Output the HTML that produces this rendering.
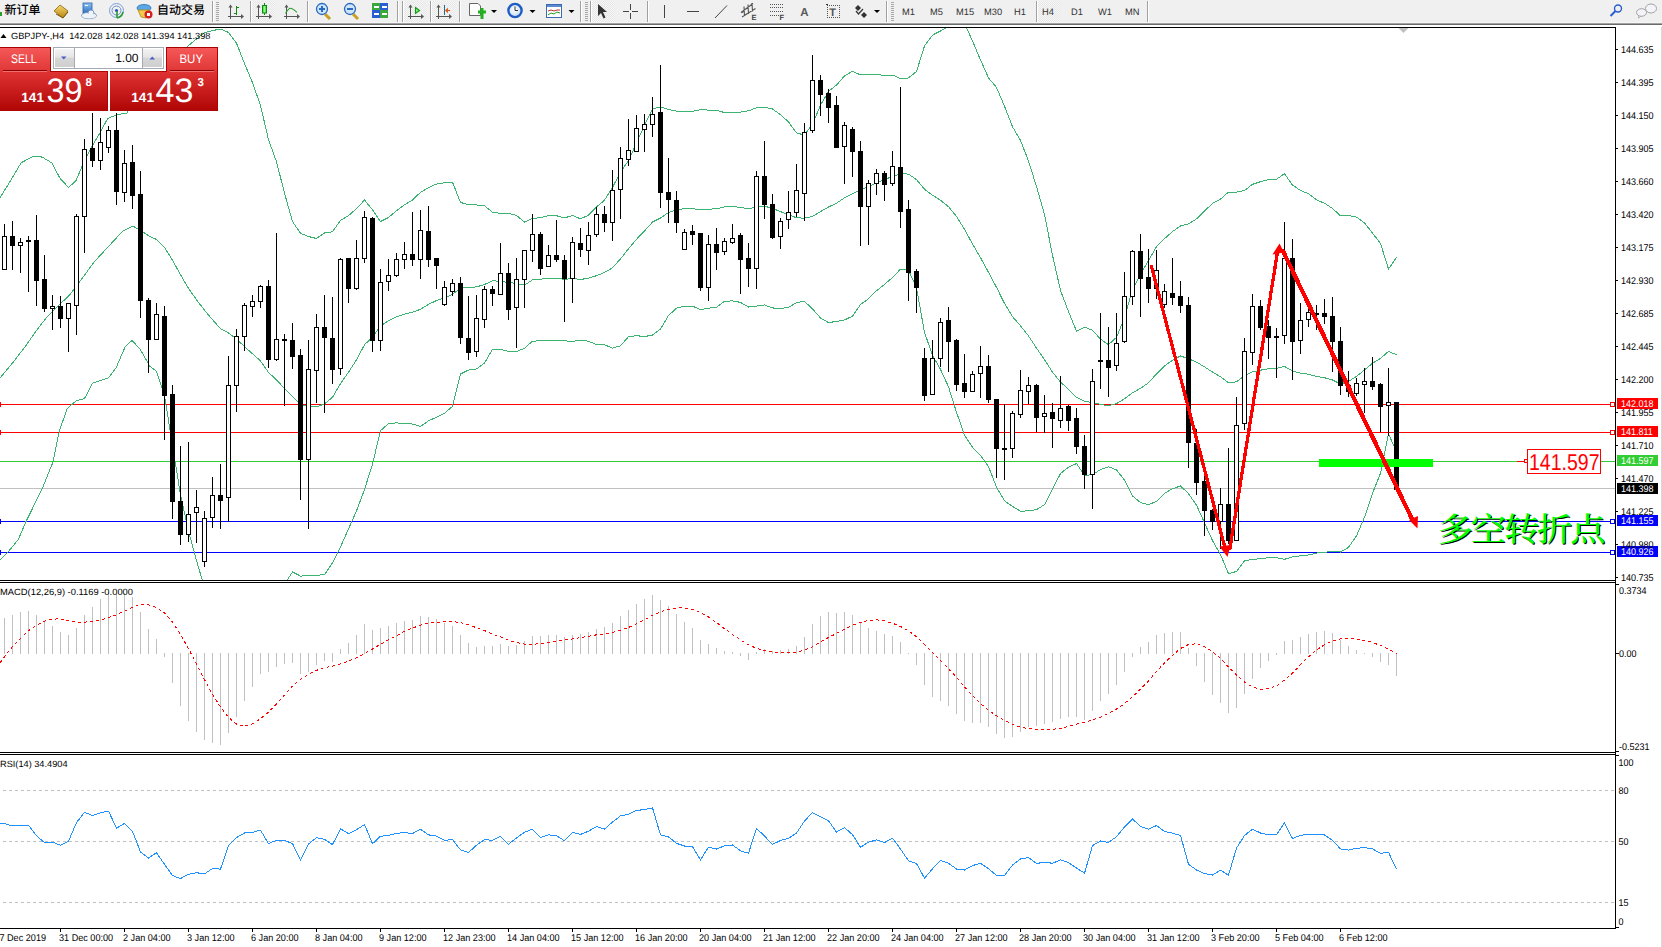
<!DOCTYPE html>
<html><head><meta charset="utf-8"><title>GBPJPY-,H4</title>
<style>html,body{margin:0;padding:0;background:#fff;}body{width:1662px;height:947px;overflow:hidden;position:relative;}svg text{white-space:pre;text-rendering:geometricPrecision;}</style>
</head><body>
<svg width="1662" height="947" viewBox="0 0 1662 947" style="position:absolute;left:0;top:0">
<defs><clipPath id="cm"><rect x="0" y="28" width="1615" height="552"/></clipPath><clipPath id="cd"><rect x="0" y="583" width="1615" height="169"/></clipPath><clipPath id="cr"><rect x="0" y="755" width="1615" height="173"/></clipPath></defs>
<rect x="0" y="0" width="1662" height="947" fill="#fff"/>
<g clip-path="url(#cm)"><rect x="0" y="404" width="1615" height="1" fill="#ff0000"/><rect x="0" y="432" width="1615" height="1" fill="#ff0000"/><rect x="0" y="461" width="1615" height="1" fill="#32cd32"/><rect x="0" y="488" width="1615" height="1" fill="#c0c0c0"/><rect x="0" y="521" width="1615" height="1" fill="#0000ff"/><rect x="0" y="552" width="1615" height="1" fill="#0000ff"/><polyline fill="none" stroke="#3cb371" stroke-width="1" shape-rendering="crispEdges" points="0,197.6 10.6,180.7 21.1,162.8 33.8,156 42.2,157.1 51.7,162.8 60.2,178.6 68.6,187.5 76,180.7 81.3,168.1 90.8,148 99.2,134.3 107.7,118.4 118.2,114.2 126.7,113.6 131,104.5 140,96.5 150,100.5 156.5,107.61 164.5,99.06 172.5,75.08 180.5,54.77 188.5,45.67 196.5,39 204.5,32.57 212.5,30.55 220.5,29.11 228.5,32.46 236.5,43.24 244.5,63.47 252.5,82.65 260.5,105.48 268.5,139.76 276.5,161.69 284.5,193.17 292.5,221.49 300.5,233.24 308.5,236.53 316.5,238.49 324.5,232.94 332.5,231.81 340.5,220.26 348.5,215.63 356.5,208.68 364.5,200.03 372.5,209.87 380.5,221.53 388.5,217.54 396.5,210.65 404.5,204.74 412.5,200.16 420.5,192.26 428.5,187.72 436.5,184.03 444.5,182.72 452.5,182.14 460.5,202.49 468.5,204.59 476.5,204.93 484.5,205.85 492.5,212.15 500.5,213.45 508.5,213.45 516.5,215.36 524.5,222.07 532.5,218.47 540.5,217.59 548.5,215.74 556.5,215.74 564.5,217.89 572.5,215.51 580.5,218.86 588.5,215.23 596.5,206.95 604.5,200.19 612.5,187.46 620.5,171.95 628.5,160.79 636.5,142.84 644.5,125.4 652.5,109.07 660.5,106.9 668.5,109.46 676.5,111.13 684.5,111.41 692.5,111.41 700.5,109.71 708.5,110.06 716.5,110.38 724.5,112.53 732.5,112.61 740.5,112.11 748.5,110.76 756.5,107.9 764.5,107.25 772.5,108.97 780.5,114.69 788.5,121.92 796.5,132.95 804.5,135.05 812.5,124.07 820.5,105.26 828.5,91.4 836.5,85.07 844.5,75.88 852.5,71.34 860.5,74.84 868.5,74.57 876.5,74.68 884.5,75.24 892.5,75.06 900.5,78.56 908.5,77.96 916.5,71.51 924.5,45.91 932.5,35.08 940.5,31.02 948.5,26.61 956.5,20.63 964.5,23.48 972.5,40.83 980.5,59.95 988.5,77.96 996.5,87.45 1004.5,106.22 1012.5,126.78 1020.5,140.44 1028.5,160.93 1036.5,186.62 1044.5,214.45 1052.5,255.27 1060.5,290.48 1068.5,311.59 1076.5,331.19 1084.5,327.11 1092.5,330.26 1100.5,339.18 1108.5,344.65 1116.5,337.36 1124.5,317.84 1132.5,289.57 1140.5,274.15 1148.5,260.79 1156.5,246.51 1164.5,238.74 1172.5,231.56 1180.5,225.99 1188.5,223.96 1196.5,218.84 1204.5,211.04 1212.5,203.42 1220.5,199.13 1228.5,192.02 1236.5,192.15 1244.5,190.5 1252.5,184.35 1260.5,181.69 1268.5,179.66 1276.5,179.18 1284.5,173.7 1292.5,185.07 1300.5,190.47 1308.5,193.61 1316.5,199.89 1324.5,203.22 1332.5,208.44 1340.5,215.88 1348.5,215.42 1356.5,217.05 1364.5,222.85 1372.5,233.12 1380.5,243.37 1388.5,269.08 1396.5,257.39"/><polyline fill="none" stroke="#3cb371" stroke-width="1" shape-rendering="crispEdges" points="0,378 13.2,362.2 26.4,345 34.3,333.5 46.8,317 69.7,294.8 95,261 122.5,231.4 133,226.1 143.6,232.5 150,236.5 156.5,239.4 164.5,247.35 172.5,260.15 180.5,274.75 188.5,288.4 196.5,299.75 204.5,310.25 212.5,319.7 220.5,328.8 228.5,332.9 236.5,338.9 244.5,346.7 252.5,353.75 260.5,360.95 268.5,372.4 276.5,379.8 284.5,388.65 292.5,396.7 300.5,404.65 308.5,406.15 316.5,406.8 324.5,403.9 332.5,397.3 340.5,383.55 348.5,372.25 356.5,359.8 364.5,344.75 372.5,337 380.5,326.1 388.5,320.6 396.5,316.75 404.5,314.2 412.5,312.1 420.5,309.3 428.5,304.3 436.5,300.6 444.5,297.95 452.5,294.3 460.5,288.2 468.5,287.35 476.5,286.9 484.5,284.5 492.5,280.7 500.5,281.4 508.5,282.45 516.5,283.5 524.5,285.15 532.5,279.85 540.5,279.15 548.5,278.15 556.5,278.15 564.5,279.35 572.5,278.5 580.5,279.45 588.5,278.25 596.5,275.7 604.5,272.45 612.5,267.8 620.5,258.85 628.5,248.75 636.5,239.25 644.5,231 652.5,222.05 660.5,218 668.5,212.5 676.5,209.65 684.5,208.75 692.5,208.75 700.5,209.7 708.5,209.15 716.5,208.8 724.5,206.95 732.5,206.75 740.5,207.25 748.5,208.9 756.5,207 764.5,206.1 772.5,208.45 780.5,211.6 788.5,214.7 796.5,217.8 804.5,218.2 812.5,216.5 820.5,211.6 828.5,207 836.5,203.25 844.5,197.9 852.5,193.75 860.5,189.7 868.5,186.65 876.5,182.7 884.5,179.85 892.5,176.25 900.5,173.85 908.5,174.05 916.5,179.6 924.5,189.15 932.5,195.2 940.5,200.25 948.5,206.7 956.5,216.4 964.5,229.35 972.5,244.05 980.5,257.65 988.5,272.25 996.5,287.3 1004.5,303.5 1012.5,316.6 1020.5,325.8 1028.5,335.9 1036.5,348.1 1044.5,359.55 1052.5,372.15 1060.5,382 1068.5,389.4 1076.5,397.35 1084.5,401.3 1092.5,402.45 1100.5,404.4 1108.5,405.7 1116.5,403.65 1124.5,398.9 1132.5,392.75 1140.5,388.35 1148.5,382.8 1156.5,373.9 1164.5,366 1172.5,360.2 1180.5,355.95 1188.5,358.8 1196.5,362.05 1204.5,366.9 1212.5,372.05 1220.5,376.85 1228.5,382.85 1236.5,381.8 1244.5,375.65 1252.5,371.9 1260.5,370.2 1268.5,368.7 1276.5,368.4 1284.5,366.5 1292.5,371 1300.5,373.1 1308.5,374.3 1316.5,376.5 1324.5,377.75 1332.5,379.95 1340.5,383.95 1348.5,381.4 1356.5,376.45 1364.5,370 1372.5,363.25 1380.5,358.35 1388.5,351.45 1396.5,354.65"/><polyline fill="none" stroke="#3cb371" stroke-width="1" shape-rendering="crispEdges" points="0,560.2 7.9,552.3 18.5,539.1 26.4,520.6 34.3,504.8 42.2,488.9 52.8,462.5 59.4,430.8 67.3,408.4 76.6,400.5 84.5,398.6 92.4,383.3 108.3,378 116.2,367.5 125.4,346.3 132,340.5 140,349 150,366.5 156.5,371.19 164.5,395.64 172.5,445.22 180.5,494.73 188.5,531.13 196.5,560.5 204.5,587.93 212.5,608.85 220.5,628.49 228.5,633.34 236.5,634.56 244.5,629.93 252.5,624.85 260.5,616.42 268.5,605.04 276.5,597.91 284.5,584.13 292.5,571.91 300.5,576.06 308.5,575.77 316.5,575.11 324.5,574.86 332.5,562.79 340.5,546.84 348.5,528.87 356.5,510.92 364.5,489.47 372.5,464.13 380.5,430.67 388.5,423.66 396.5,422.85 404.5,423.66 412.5,424.04 420.5,426.34 428.5,420.88 436.5,417.17 444.5,413.18 452.5,406.46 460.5,373.91 468.5,370.11 476.5,368.87 484.5,363.15 492.5,349.25 500.5,349.35 508.5,351.45 516.5,351.64 524.5,348.23 532.5,341.23 540.5,340.71 548.5,340.56 556.5,340.56 564.5,340.81 572.5,341.49 580.5,340.04 588.5,341.27 596.5,344.45 604.5,344.71 612.5,348.14 620.5,345.75 628.5,336.71 636.5,335.66 644.5,336.6 652.5,335.03 660.5,329.1 668.5,315.54 676.5,308.17 684.5,306.09 692.5,306.09 700.5,309.69 708.5,308.24 716.5,307.22 724.5,301.37 732.5,300.89 740.5,302.39 748.5,307.04 756.5,306.1 764.5,304.95 772.5,307.93 780.5,308.51 788.5,307.48 796.5,302.65 804.5,301.35 812.5,308.93 820.5,317.94 828.5,322.6 836.5,321.43 844.5,319.92 852.5,316.16 860.5,304.56 868.5,298.73 876.5,290.72 884.5,284.46 892.5,277.44 900.5,269.14 908.5,270.14 916.5,287.69 924.5,332.39 932.5,355.32 940.5,369.48 948.5,386.79 956.5,412.17 964.5,435.22 972.5,447.27 980.5,455.35 988.5,466.54 996.5,487.15 1004.5,500.78 1012.5,506.42 1020.5,511.16 1028.5,510.87 1036.5,509.58 1044.5,504.65 1052.5,489.03 1060.5,473.52 1068.5,467.21 1076.5,463.51 1084.5,475.49 1092.5,474.64 1100.5,469.62 1108.5,466.75 1116.5,469.94 1124.5,479.96 1132.5,495.93 1140.5,502.55 1148.5,504.81 1156.5,501.29 1164.5,493.26 1172.5,488.84 1180.5,485.91 1188.5,493.64 1196.5,505.26 1204.5,522.76 1212.5,540.68 1220.5,554.57 1228.5,573.68 1236.5,571.45 1244.5,560.8 1252.5,559.45 1260.5,558.71 1268.5,557.74 1276.5,557.62 1284.5,559.3 1292.5,556.93 1300.5,555.73 1308.5,554.99 1316.5,553.11 1324.5,552.28 1332.5,551.46 1340.5,552.02 1348.5,547.38 1356.5,535.85 1364.5,517.15 1372.5,493.38 1380.5,473.33 1388.5,433.82 1396.5,451.91"/><rect x="4" y="224" width="1" height="46" fill="#000"/><rect x="2.5" y="236.5" width="4" height="33" fill="#fff" stroke="#000" stroke-width="1"/><rect x="12" y="221" width="1" height="49" fill="#000"/><rect x="10" y="236" width="5" height="10" fill="#000"/><rect x="20" y="238" width="1" height="35" fill="#000"/><rect x="18.5" y="242.5" width="4" height="3" fill="#fff" stroke="#000" stroke-width="1"/><rect x="28" y="236" width="1" height="56" fill="#000"/><rect x="26" y="240" width="5" height="2" fill="#000"/><rect x="36" y="215" width="1" height="91" fill="#000"/><rect x="34" y="240" width="5" height="41" fill="#000"/><rect x="44" y="255" width="1" height="57" fill="#000"/><rect x="42" y="279" width="5" height="30" fill="#000"/><rect x="52" y="295" width="1" height="35" fill="#000"/><rect x="50.5" y="306.5" width="4" height="2" fill="#fff" stroke="#000" stroke-width="1"/><rect x="60" y="296" width="1" height="32" fill="#000"/><rect x="58" y="306" width="5" height="13" fill="#000"/><rect x="68" y="303" width="1" height="49" fill="#000"/><rect x="66.5" y="303.5" width="4" height="15" fill="#fff" stroke="#000" stroke-width="1"/><rect x="76" y="214" width="1" height="121" fill="#000"/><rect x="74.5" y="216.5" width="4" height="89" fill="#fff" stroke="#000" stroke-width="1"/><rect x="84" y="139" width="1" height="114" fill="#000"/><rect x="82.5" y="149.5" width="4" height="67" fill="#fff" stroke="#000" stroke-width="1"/><rect x="92" y="113" width="1" height="54" fill="#000"/><rect x="90" y="148" width="5" height="13" fill="#000"/><rect x="100" y="118" width="1" height="52" fill="#000"/><rect x="98.5" y="142.5" width="4" height="18" fill="#fff" stroke="#000" stroke-width="1"/><rect x="108" y="126" width="1" height="27" fill="#000"/><rect x="106.5" y="130.5" width="4" height="17" fill="#fff" stroke="#000" stroke-width="1"/><rect x="116" y="113" width="1" height="92" fill="#000"/><rect x="114" y="130" width="5" height="62" fill="#000"/><rect x="124" y="150" width="1" height="52" fill="#000"/><rect x="122.5" y="163.5" width="4" height="29" fill="#fff" stroke="#000" stroke-width="1"/><rect x="132" y="145" width="1" height="64" fill="#000"/><rect x="130" y="162" width="5" height="34" fill="#000"/><rect x="140" y="171" width="1" height="147" fill="#000"/><rect x="138" y="194" width="5" height="107" fill="#000"/><rect x="148" y="298" width="1" height="75" fill="#000"/><rect x="146" y="300" width="5" height="40" fill="#000"/><rect x="156" y="303" width="1" height="37" fill="#000"/><rect x="154.5" y="314.5" width="4" height="25" fill="#fff" stroke="#000" stroke-width="1"/><rect x="164" y="306" width="1" height="134" fill="#000"/><rect x="162" y="316" width="5" height="80" fill="#000"/><rect x="172" y="385" width="1" height="134" fill="#000"/><rect x="170" y="394" width="5" height="108" fill="#000"/><rect x="180" y="446" width="1" height="99" fill="#000"/><rect x="178" y="501" width="5" height="34" fill="#000"/><rect x="188" y="442" width="1" height="100" fill="#000"/><rect x="186.5" y="514.5" width="4" height="20" fill="#fff" stroke="#000" stroke-width="1"/><rect x="196" y="490" width="1" height="53" fill="#000"/><rect x="194.5" y="507.5" width="4" height="5" fill="#fff" stroke="#000" stroke-width="1"/><rect x="204" y="511" width="1" height="56" fill="#000"/><rect x="202.5" y="518.5" width="4" height="43" fill="#fff" stroke="#000" stroke-width="1"/><rect x="212" y="477" width="1" height="51" fill="#000"/><rect x="210.5" y="495.5" width="4" height="22" fill="#fff" stroke="#000" stroke-width="1"/><rect x="220" y="464" width="1" height="65" fill="#000"/><rect x="218" y="495" width="5" height="6" fill="#000"/><rect x="228" y="356" width="1" height="166" fill="#000"/><rect x="226.5" y="385.5" width="4" height="112" fill="#fff" stroke="#000" stroke-width="1"/><rect x="236" y="329" width="1" height="83" fill="#000"/><rect x="234.5" y="336.5" width="4" height="49" fill="#fff" stroke="#000" stroke-width="1"/><rect x="244" y="303" width="1" height="48" fill="#000"/><rect x="242.5" y="305.5" width="4" height="31" fill="#fff" stroke="#000" stroke-width="1"/><rect x="252" y="295" width="1" height="22" fill="#000"/><rect x="250.5" y="301.5" width="4" height="5" fill="#fff" stroke="#000" stroke-width="1"/><rect x="260" y="285" width="1" height="23" fill="#000"/><rect x="258.5" y="286.5" width="4" height="15" fill="#fff" stroke="#000" stroke-width="1"/><rect x="268" y="280" width="1" height="88" fill="#000"/><rect x="266" y="286" width="5" height="74" fill="#000"/><rect x="276" y="233" width="1" height="128" fill="#000"/><rect x="274.5" y="339.5" width="4" height="20" fill="#fff" stroke="#000" stroke-width="1"/><rect x="284" y="334" width="1" height="72" fill="#000"/><rect x="282" y="339" width="5" height="2" fill="#000"/><rect x="292" y="323" width="1" height="46" fill="#000"/><rect x="290" y="340" width="5" height="17" fill="#000"/><rect x="300" y="349" width="1" height="151" fill="#000"/><rect x="298" y="355" width="5" height="105" fill="#000"/><rect x="308" y="340" width="1" height="189" fill="#000"/><rect x="306.5" y="369.5" width="4" height="90" fill="#fff" stroke="#000" stroke-width="1"/><rect x="316" y="314" width="1" height="89" fill="#000"/><rect x="314.5" y="327.5" width="4" height="43" fill="#fff" stroke="#000" stroke-width="1"/><rect x="324" y="295" width="1" height="118" fill="#000"/><rect x="322" y="327" width="5" height="11" fill="#000"/><rect x="332" y="297" width="1" height="87" fill="#000"/><rect x="330" y="338" width="5" height="32" fill="#000"/><rect x="340" y="258" width="1" height="117" fill="#000"/><rect x="338.5" y="259.5" width="4" height="109" fill="#fff" stroke="#000" stroke-width="1"/><rect x="348" y="258" width="1" height="45" fill="#000"/><rect x="346" y="258" width="5" height="31" fill="#000"/><rect x="356" y="240" width="1" height="50" fill="#000"/><rect x="354.5" y="258.5" width="4" height="30" fill="#fff" stroke="#000" stroke-width="1"/><rect x="364" y="211" width="1" height="52" fill="#000"/><rect x="362.5" y="217.5" width="4" height="41" fill="#fff" stroke="#000" stroke-width="1"/><rect x="372" y="217" width="1" height="135" fill="#000"/><rect x="370" y="218" width="5" height="123" fill="#000"/><rect x="380" y="269" width="1" height="82" fill="#000"/><rect x="378.5" y="282.5" width="4" height="58" fill="#fff" stroke="#000" stroke-width="1"/><rect x="388" y="259" width="1" height="32" fill="#000"/><rect x="386.5" y="275.5" width="4" height="6" fill="#fff" stroke="#000" stroke-width="1"/><rect x="396" y="253" width="1" height="24" fill="#000"/><rect x="394.5" y="259.5" width="4" height="16" fill="#fff" stroke="#000" stroke-width="1"/><rect x="404" y="242" width="1" height="27" fill="#000"/><rect x="402.5" y="254.5" width="4" height="5" fill="#fff" stroke="#000" stroke-width="1"/><rect x="412" y="212" width="1" height="54" fill="#000"/><rect x="410" y="254" width="5" height="6" fill="#000"/><rect x="420" y="210" width="1" height="69" fill="#000"/><rect x="418.5" y="230.5" width="4" height="29" fill="#fff" stroke="#000" stroke-width="1"/><rect x="428" y="206" width="1" height="61" fill="#000"/><rect x="426" y="231" width="5" height="29" fill="#000"/><rect x="436" y="258" width="1" height="31" fill="#000"/><rect x="434" y="258" width="5" height="8" fill="#000"/><rect x="444" y="281" width="1" height="25" fill="#000"/><rect x="442.5" y="287.5" width="4" height="17" fill="#fff" stroke="#000" stroke-width="1"/><rect x="452" y="279" width="1" height="17" fill="#000"/><rect x="450.5" y="283.5" width="4" height="8" fill="#fff" stroke="#000" stroke-width="1"/><rect x="460" y="277" width="1" height="67" fill="#000"/><rect x="458" y="283" width="5" height="55" fill="#000"/><rect x="468" y="296" width="1" height="64" fill="#000"/><rect x="466" y="338" width="5" height="15" fill="#000"/><rect x="476" y="295" width="1" height="62" fill="#000"/><rect x="474.5" y="318.5" width="4" height="33" fill="#fff" stroke="#000" stroke-width="1"/><rect x="484" y="286" width="1" height="42" fill="#000"/><rect x="482.5" y="289.5" width="4" height="30" fill="#fff" stroke="#000" stroke-width="1"/><rect x="492" y="286" width="1" height="20" fill="#000"/><rect x="490" y="289" width="5" height="5" fill="#000"/><rect x="500" y="243" width="1" height="52" fill="#000"/><rect x="498.5" y="273.5" width="4" height="21" fill="#fff" stroke="#000" stroke-width="1"/><rect x="508" y="263" width="1" height="57" fill="#000"/><rect x="506" y="273" width="5" height="37" fill="#000"/><rect x="516" y="258" width="1" height="90" fill="#000"/><rect x="514.5" y="279.5" width="4" height="28" fill="#fff" stroke="#000" stroke-width="1"/><rect x="524" y="250" width="1" height="58" fill="#000"/><rect x="522.5" y="250.5" width="4" height="29" fill="#fff" stroke="#000" stroke-width="1"/><rect x="532" y="214" width="1" height="48" fill="#000"/><rect x="530.5" y="234.5" width="4" height="16" fill="#fff" stroke="#000" stroke-width="1"/><rect x="540" y="232" width="1" height="43" fill="#000"/><rect x="538" y="234" width="5" height="35" fill="#000"/><rect x="548" y="245" width="1" height="22" fill="#000"/><rect x="546.5" y="255.5" width="4" height="11" fill="#fff" stroke="#000" stroke-width="1"/><rect x="556" y="220" width="1" height="42" fill="#000"/><rect x="554" y="255" width="5" height="5" fill="#000"/><rect x="564" y="255" width="1" height="67" fill="#000"/><rect x="562" y="260" width="5" height="19" fill="#000"/><rect x="572" y="237" width="1" height="66" fill="#000"/><rect x="570.5" y="242.5" width="4" height="36" fill="#fff" stroke="#000" stroke-width="1"/><rect x="580" y="228" width="1" height="29" fill="#000"/><rect x="578" y="243" width="5" height="7" fill="#000"/><rect x="588" y="222" width="1" height="43" fill="#000"/><rect x="586.5" y="235.5" width="4" height="15" fill="#fff" stroke="#000" stroke-width="1"/><rect x="596" y="207" width="1" height="30" fill="#000"/><rect x="594.5" y="214.5" width="4" height="20" fill="#fff" stroke="#000" stroke-width="1"/><rect x="604" y="206" width="1" height="26" fill="#000"/><rect x="602" y="214" width="5" height="9" fill="#000"/><rect x="612" y="170" width="1" height="71" fill="#000"/><rect x="610.5" y="190.5" width="4" height="32" fill="#fff" stroke="#000" stroke-width="1"/><rect x="620" y="147" width="1" height="72" fill="#000"/><rect x="618.5" y="158.5" width="4" height="31" fill="#fff" stroke="#000" stroke-width="1"/><rect x="628" y="119" width="1" height="47" fill="#000"/><rect x="626.5" y="150.5" width="4" height="9" fill="#fff" stroke="#000" stroke-width="1"/><rect x="636" y="115" width="1" height="37" fill="#000"/><rect x="634.5" y="128.5" width="4" height="23" fill="#fff" stroke="#000" stroke-width="1"/><rect x="644" y="114" width="1" height="38" fill="#000"/><rect x="642.5" y="124.5" width="4" height="5" fill="#fff" stroke="#000" stroke-width="1"/><rect x="652" y="97" width="1" height="40" fill="#000"/><rect x="650.5" y="114.5" width="4" height="10" fill="#fff" stroke="#000" stroke-width="1"/><rect x="660" y="65" width="1" height="143" fill="#000"/><rect x="658" y="112" width="5" height="81" fill="#000"/><rect x="668" y="158" width="1" height="65" fill="#000"/><rect x="666" y="192" width="5" height="8" fill="#000"/><rect x="676" y="191" width="1" height="42" fill="#000"/><rect x="674" y="200" width="5" height="23" fill="#000"/><rect x="684" y="229" width="1" height="21" fill="#000"/><rect x="682.5" y="232.5" width="4" height="17" fill="#fff" stroke="#000" stroke-width="1"/><rect x="692" y="225" width="1" height="20" fill="#000"/><rect x="690" y="231" width="5" height="4" fill="#000"/><rect x="700" y="233" width="1" height="58" fill="#000"/><rect x="698" y="233" width="5" height="55" fill="#000"/><rect x="708" y="235" width="1" height="66" fill="#000"/><rect x="706.5" y="244.5" width="4" height="43" fill="#fff" stroke="#000" stroke-width="1"/><rect x="716" y="228" width="1" height="42" fill="#000"/><rect x="714" y="244" width="5" height="9" fill="#000"/><rect x="724" y="238" width="1" height="17" fill="#000"/><rect x="722.5" y="241.5" width="4" height="10" fill="#fff" stroke="#000" stroke-width="1"/><rect x="732" y="224" width="1" height="20" fill="#000"/><rect x="730.5" y="238.5" width="4" height="4" fill="#fff" stroke="#000" stroke-width="1"/><rect x="740" y="233" width="1" height="61" fill="#000"/><rect x="738" y="235" width="5" height="25" fill="#000"/><rect x="748" y="243" width="1" height="44" fill="#000"/><rect x="746" y="258" width="5" height="11" fill="#000"/><rect x="756" y="171" width="1" height="118" fill="#000"/><rect x="754.5" y="176.5" width="4" height="92" fill="#fff" stroke="#000" stroke-width="1"/><rect x="764" y="141" width="1" height="78" fill="#000"/><rect x="762" y="176" width="5" height="29" fill="#000"/><rect x="772" y="194" width="1" height="45" fill="#000"/><rect x="770" y="204" width="5" height="34" fill="#000"/><rect x="780" y="218" width="1" height="31" fill="#000"/><rect x="778.5" y="221.5" width="4" height="15" fill="#fff" stroke="#000" stroke-width="1"/><rect x="788" y="191" width="1" height="38" fill="#000"/><rect x="786.5" y="212.5" width="4" height="7" fill="#fff" stroke="#000" stroke-width="1"/><rect x="796" y="164" width="1" height="53" fill="#000"/><rect x="794.5" y="190.5" width="4" height="22" fill="#fff" stroke="#000" stroke-width="1"/><rect x="804" y="123" width="1" height="98" fill="#000"/><rect x="802.5" y="132.5" width="4" height="61" fill="#fff" stroke="#000" stroke-width="1"/><rect x="812" y="55" width="1" height="78" fill="#000"/><rect x="810.5" y="80.5" width="4" height="50" fill="#fff" stroke="#000" stroke-width="1"/><rect x="820" y="75" width="1" height="41" fill="#000"/><rect x="818" y="80" width="5" height="15" fill="#000"/><rect x="828" y="89" width="1" height="34" fill="#000"/><rect x="826" y="93" width="5" height="15" fill="#000"/><rect x="836" y="96" width="1" height="52" fill="#000"/><rect x="834" y="105" width="5" height="43" fill="#000"/><rect x="844" y="122" width="1" height="62" fill="#000"/><rect x="842.5" y="125.5" width="4" height="21" fill="#fff" stroke="#000" stroke-width="1"/><rect x="852" y="127" width="1" height="50" fill="#000"/><rect x="850" y="129" width="5" height="23" fill="#000"/><rect x="860" y="141" width="1" height="105" fill="#000"/><rect x="858" y="151" width="5" height="56" fill="#000"/><rect x="868" y="180" width="1" height="65" fill="#000"/><rect x="866.5" y="183.5" width="4" height="23" fill="#fff" stroke="#000" stroke-width="1"/><rect x="876" y="169" width="1" height="26" fill="#000"/><rect x="874.5" y="173.5" width="4" height="10" fill="#fff" stroke="#000" stroke-width="1"/><rect x="884" y="171" width="1" height="30" fill="#000"/><rect x="882" y="173" width="5" height="12" fill="#000"/><rect x="892" y="151" width="1" height="35" fill="#000"/><rect x="890.5" y="166.5" width="4" height="17" fill="#fff" stroke="#000" stroke-width="1"/><rect x="900" y="87" width="1" height="141" fill="#000"/><rect x="898" y="167" width="5" height="45" fill="#000"/><rect x="908" y="200" width="1" height="101" fill="#000"/><rect x="906" y="209" width="5" height="64" fill="#000"/><rect x="916" y="269" width="1" height="44" fill="#000"/><rect x="914" y="271" width="5" height="17" fill="#000"/><rect x="924" y="348" width="1" height="53" fill="#000"/><rect x="922" y="358" width="5" height="38" fill="#000"/><rect x="932" y="340" width="1" height="55" fill="#000"/><rect x="930.5" y="358.5" width="4" height="36" fill="#fff" stroke="#000" stroke-width="1"/><rect x="940" y="318" width="1" height="49" fill="#000"/><rect x="938.5" y="322.5" width="4" height="36" fill="#fff" stroke="#000" stroke-width="1"/><rect x="948" y="307" width="1" height="65" fill="#000"/><rect x="946" y="320" width="5" height="22" fill="#000"/><rect x="956" y="339" width="1" height="52" fill="#000"/><rect x="954" y="340" width="5" height="45" fill="#000"/><rect x="964" y="354" width="1" height="44" fill="#000"/><rect x="962" y="383" width="5" height="9" fill="#000"/><rect x="972" y="371" width="1" height="21" fill="#000"/><rect x="970.5" y="374.5" width="4" height="17" fill="#fff" stroke="#000" stroke-width="1"/><rect x="980" y="346" width="1" height="52" fill="#000"/><rect x="978.5" y="366.5" width="4" height="7" fill="#fff" stroke="#000" stroke-width="1"/><rect x="988" y="355" width="1" height="48" fill="#000"/><rect x="986" y="366" width="5" height="34" fill="#000"/><rect x="996" y="399" width="1" height="79" fill="#000"/><rect x="994" y="399" width="5" height="50" fill="#000"/><rect x="1004" y="404" width="1" height="76" fill="#000"/><rect x="1002" y="448" width="5" height="2" fill="#000"/><rect x="1012" y="411" width="1" height="47" fill="#000"/><rect x="1010.5" y="413.5" width="4" height="35" fill="#fff" stroke="#000" stroke-width="1"/><rect x="1020" y="370" width="1" height="48" fill="#000"/><rect x="1018.5" y="390.5" width="4" height="24" fill="#fff" stroke="#000" stroke-width="1"/><rect x="1028" y="377" width="1" height="27" fill="#000"/><rect x="1026.5" y="385.5" width="4" height="6" fill="#fff" stroke="#000" stroke-width="1"/><rect x="1036" y="384" width="1" height="48" fill="#000"/><rect x="1034" y="385" width="5" height="33" fill="#000"/><rect x="1044" y="395" width="1" height="38" fill="#000"/><rect x="1042.5" y="413.5" width="4" height="3" fill="#fff" stroke="#000" stroke-width="1"/><rect x="1052" y="403" width="1" height="45" fill="#000"/><rect x="1050" y="412" width="5" height="7" fill="#000"/><rect x="1060" y="376" width="1" height="52" fill="#000"/><rect x="1058.5" y="408.5" width="4" height="12" fill="#fff" stroke="#000" stroke-width="1"/><rect x="1068" y="405" width="1" height="26" fill="#000"/><rect x="1066" y="406" width="5" height="15" fill="#000"/><rect x="1076" y="408" width="1" height="46" fill="#000"/><rect x="1074" y="418" width="5" height="29" fill="#000"/><rect x="1084" y="435" width="1" height="54" fill="#000"/><rect x="1082" y="446" width="5" height="29" fill="#000"/><rect x="1092" y="369" width="1" height="140" fill="#000"/><rect x="1090.5" y="381.5" width="4" height="93" fill="#fff" stroke="#000" stroke-width="1"/><rect x="1100" y="313" width="1" height="76" fill="#000"/><rect x="1098" y="360" width="5" height="2" fill="#000"/><rect x="1108" y="327" width="1" height="70" fill="#000"/><rect x="1106" y="360" width="5" height="8" fill="#000"/><rect x="1116" y="313" width="1" height="58" fill="#000"/><rect x="1114.5" y="343.5" width="4" height="22" fill="#fff" stroke="#000" stroke-width="1"/><rect x="1124" y="272" width="1" height="71" fill="#000"/><rect x="1122.5" y="296.5" width="4" height="45" fill="#fff" stroke="#000" stroke-width="1"/><rect x="1132" y="250" width="1" height="55" fill="#000"/><rect x="1130.5" y="251.5" width="4" height="45" fill="#fff" stroke="#000" stroke-width="1"/><rect x="1140" y="234" width="1" height="83" fill="#000"/><rect x="1138" y="251" width="5" height="28" fill="#000"/><rect x="1148" y="249" width="1" height="54" fill="#000"/><rect x="1146" y="277" width="5" height="12" fill="#000"/><rect x="1156" y="250" width="1" height="49" fill="#000"/><rect x="1154.5" y="270.5" width="4" height="18" fill="#fff" stroke="#000" stroke-width="1"/><rect x="1164" y="284" width="1" height="24" fill="#000"/><rect x="1162.5" y="291.5" width="4" height="13" fill="#fff" stroke="#000" stroke-width="1"/><rect x="1172" y="258" width="1" height="47" fill="#000"/><rect x="1170" y="293" width="5" height="5" fill="#000"/><rect x="1180" y="281" width="1" height="32" fill="#000"/><rect x="1178" y="296" width="5" height="10" fill="#000"/><rect x="1188" y="297" width="1" height="171" fill="#000"/><rect x="1186" y="305" width="5" height="138" fill="#000"/><rect x="1196" y="429" width="1" height="66" fill="#000"/><rect x="1194" y="443" width="5" height="40" fill="#000"/><rect x="1204" y="475" width="1" height="61" fill="#000"/><rect x="1202" y="481" width="5" height="30" fill="#000"/><rect x="1212" y="509" width="1" height="21" fill="#000"/><rect x="1210" y="510" width="5" height="12" fill="#000"/><rect x="1220" y="488" width="1" height="61" fill="#000"/><rect x="1218.5" y="504.5" width="4" height="17" fill="#fff" stroke="#000" stroke-width="1"/><rect x="1228" y="448" width="1" height="96" fill="#000"/><rect x="1226" y="504" width="5" height="37" fill="#000"/><rect x="1236" y="397" width="1" height="144" fill="#000"/><rect x="1234.5" y="425.5" width="4" height="115" fill="#fff" stroke="#000" stroke-width="1"/><rect x="1244" y="338" width="1" height="92" fill="#000"/><rect x="1242.5" y="351.5" width="4" height="72" fill="#fff" stroke="#000" stroke-width="1"/><rect x="1252" y="294" width="1" height="71" fill="#000"/><rect x="1250.5" y="306.5" width="4" height="46" fill="#fff" stroke="#000" stroke-width="1"/><rect x="1260" y="300" width="1" height="30" fill="#000"/><rect x="1258" y="306" width="5" height="22" fill="#000"/><rect x="1268" y="320" width="1" height="39" fill="#000"/><rect x="1266" y="326" width="5" height="12" fill="#000"/><rect x="1276" y="328" width="1" height="50" fill="#000"/><rect x="1274" y="336" width="5" height="2" fill="#000"/><rect x="1284" y="222" width="1" height="122" fill="#000"/><rect x="1282.5" y="258.5" width="4" height="77" fill="#fff" stroke="#000" stroke-width="1"/><rect x="1292" y="239" width="1" height="141" fill="#000"/><rect x="1290" y="258" width="5" height="84" fill="#000"/><rect x="1300" y="303" width="1" height="51" fill="#000"/><rect x="1298.5" y="320.5" width="4" height="20" fill="#fff" stroke="#000" stroke-width="1"/><rect x="1308" y="308" width="1" height="19" fill="#000"/><rect x="1306.5" y="312.5" width="4" height="7" fill="#fff" stroke="#000" stroke-width="1"/><rect x="1316" y="305" width="1" height="25" fill="#000"/><rect x="1314" y="313" width="5" height="2" fill="#000"/><rect x="1324" y="299" width="1" height="25" fill="#000"/><rect x="1322" y="313" width="5" height="4" fill="#000"/><rect x="1332" y="297" width="1" height="75" fill="#000"/><rect x="1330" y="316" width="5" height="26" fill="#000"/><rect x="1340" y="327" width="1" height="68" fill="#000"/><rect x="1338" y="341" width="5" height="45" fill="#000"/><rect x="1348" y="371" width="1" height="26" fill="#000"/><rect x="1346" y="385" width="5" height="7" fill="#000"/><rect x="1356" y="378" width="1" height="18" fill="#000"/><rect x="1354.5" y="383.5" width="4" height="10" fill="#fff" stroke="#000" stroke-width="1"/><rect x="1364" y="368" width="1" height="45" fill="#000"/><rect x="1362.5" y="381.5" width="4" height="3" fill="#fff" stroke="#000" stroke-width="1"/><rect x="1372" y="357" width="1" height="33" fill="#000"/><rect x="1370" y="381" width="5" height="6" fill="#000"/><rect x="1380" y="383" width="1" height="49" fill="#000"/><rect x="1378" y="384" width="5" height="23" fill="#000"/><rect x="1388" y="368" width="1" height="68" fill="#000"/><rect x="1386.5" y="402.5" width="4" height="3" fill="#fff" stroke="#000" stroke-width="1"/><rect x="1396" y="402" width="1" height="88" fill="#000"/><rect x="1394" y="402" width="5" height="88" fill="#000"/><rect x="1319" y="459" width="114" height="8" fill="#00ff00"/><line x1="1151.5" y1="266.5" x2="1225" y2="548" stroke="#ff0000" stroke-width="3.3" stroke-linecap="round" shape-rendering="crispEdges"/><polygon points="1227.5,557 1219.5,546.5 1230.5,545" fill="#ff0000"/><line x1="1230" y1="548" x2="1277.5" y2="252" stroke="#ff0000" stroke-width="3.3" stroke-linecap="round" shape-rendering="crispEdges"/><polygon points="1279.5,243.5 1272.5,254.5 1284,252.5" fill="#ff0000"/><line x1="1283" y1="251" x2="1413" y2="521" stroke="#ff0000" stroke-width="4.2" stroke-linecap="round" shape-rendering="crispEdges"/><polygon points="1417.5,528.5 1409,520 1418,516" fill="#ff0000"/></g>
<g clip-path="url(#cd)"><rect x="4" y="618" width="1" height="36" fill="#c0c0c0"/><rect x="12" y="615" width="1" height="39" fill="#c0c0c0"/><rect x="20" y="612" width="1" height="42" fill="#c0c0c0"/><rect x="28" y="611" width="1" height="43" fill="#c0c0c0"/><rect x="36" y="615" width="1" height="39" fill="#c0c0c0"/><rect x="44" y="621" width="1" height="33" fill="#c0c0c0"/><rect x="52" y="626" width="1" height="28" fill="#c0c0c0"/><rect x="60" y="632" width="1" height="22" fill="#c0c0c0"/><rect x="68" y="635" width="1" height="19" fill="#c0c0c0"/><rect x="76" y="628" width="1" height="26" fill="#c0c0c0"/><rect x="84" y="615" width="1" height="39" fill="#c0c0c0"/><rect x="92" y="607" width="1" height="47" fill="#c0c0c0"/><rect x="100" y="599" width="1" height="55" fill="#c0c0c0"/><rect x="108" y="592" width="1" height="62" fill="#c0c0c0"/><rect x="116" y="594" width="1" height="60" fill="#c0c0c0"/><rect x="124" y="593" width="1" height="61" fill="#c0c0c0"/><rect x="132" y="597" width="1" height="57" fill="#c0c0c0"/><rect x="140" y="612" width="1" height="42" fill="#c0c0c0"/><rect x="148" y="629" width="1" height="25" fill="#c0c0c0"/><rect x="156" y="639" width="1" height="15" fill="#c0c0c0"/><rect x="164" y="653" width="1" height="4" fill="#c0c0c0"/><rect x="172" y="653" width="1" height="30" fill="#c0c0c0"/><rect x="180" y="653" width="1" height="53" fill="#c0c0c0"/><rect x="188" y="653" width="1" height="68" fill="#c0c0c0"/><rect x="196" y="653" width="1" height="79" fill="#c0c0c0"/><rect x="204" y="653" width="1" height="87" fill="#c0c0c0"/><rect x="212" y="653" width="1" height="90" fill="#c0c0c0"/><rect x="220" y="653" width="1" height="92" fill="#c0c0c0"/><rect x="228" y="653" width="1" height="80" fill="#c0c0c0"/><rect x="236" y="653" width="1" height="64" fill="#c0c0c0"/><rect x="244" y="653" width="1" height="48" fill="#c0c0c0"/><rect x="252" y="653" width="1" height="34" fill="#c0c0c0"/><rect x="260" y="653" width="1" height="21" fill="#c0c0c0"/><rect x="268" y="653" width="1" height="19" fill="#c0c0c0"/><rect x="276" y="653" width="1" height="14" fill="#c0c0c0"/><rect x="284" y="653" width="1" height="11" fill="#c0c0c0"/><rect x="292" y="653" width="1" height="10" fill="#c0c0c0"/><rect x="300" y="653" width="1" height="21" fill="#c0c0c0"/><rect x="308" y="653" width="1" height="19" fill="#c0c0c0"/><rect x="316" y="653" width="1" height="12" fill="#c0c0c0"/><rect x="324" y="653" width="1" height="8" fill="#c0c0c0"/><rect x="332" y="653" width="1" height="9" fill="#c0c0c0"/><rect x="340" y="649" width="1" height="5" fill="#c0c0c0"/><rect x="348" y="643" width="1" height="11" fill="#c0c0c0"/><rect x="356" y="635" width="1" height="19" fill="#c0c0c0"/><rect x="364" y="624" width="1" height="30" fill="#c0c0c0"/><rect x="372" y="630" width="1" height="24" fill="#c0c0c0"/><rect x="380" y="628" width="1" height="26" fill="#c0c0c0"/><rect x="388" y="626" width="1" height="28" fill="#c0c0c0"/><rect x="396" y="623" width="1" height="31" fill="#c0c0c0"/><rect x="404" y="621" width="1" height="33" fill="#c0c0c0"/><rect x="412" y="620" width="1" height="34" fill="#c0c0c0"/><rect x="420" y="616" width="1" height="38" fill="#c0c0c0"/><rect x="428" y="617" width="1" height="37" fill="#c0c0c0"/><rect x="436" y="619" width="1" height="35" fill="#c0c0c0"/><rect x="444" y="623" width="1" height="31" fill="#c0c0c0"/><rect x="452" y="626" width="1" height="28" fill="#c0c0c0"/><rect x="460" y="635" width="1" height="19" fill="#c0c0c0"/><rect x="468" y="643" width="1" height="11" fill="#c0c0c0"/><rect x="476" y="647" width="1" height="7" fill="#c0c0c0"/><rect x="484" y="646" width="1" height="8" fill="#c0c0c0"/><rect x="492" y="646" width="1" height="8" fill="#c0c0c0"/><rect x="500" y="644" width="1" height="10" fill="#c0c0c0"/><rect x="508" y="646" width="1" height="8" fill="#c0c0c0"/><rect x="516" y="645" width="1" height="9" fill="#c0c0c0"/><rect x="524" y="641" width="1" height="13" fill="#c0c0c0"/><rect x="532" y="636" width="1" height="18" fill="#c0c0c0"/><rect x="540" y="636" width="1" height="18" fill="#c0c0c0"/><rect x="548" y="635" width="1" height="19" fill="#c0c0c0"/><rect x="556" y="635" width="1" height="19" fill="#c0c0c0"/><rect x="564" y="637" width="1" height="17" fill="#c0c0c0"/><rect x="572" y="635" width="1" height="19" fill="#c0c0c0"/><rect x="580" y="634" width="1" height="20" fill="#c0c0c0"/><rect x="588" y="632" width="1" height="22" fill="#c0c0c0"/><rect x="596" y="629" width="1" height="25" fill="#c0c0c0"/><rect x="604" y="627" width="1" height="27" fill="#c0c0c0"/><rect x="612" y="623" width="1" height="31" fill="#c0c0c0"/><rect x="620" y="616" width="1" height="38" fill="#c0c0c0"/><rect x="628" y="610" width="1" height="44" fill="#c0c0c0"/><rect x="636" y="604" width="1" height="50" fill="#c0c0c0"/><rect x="644" y="599" width="1" height="55" fill="#c0c0c0"/><rect x="652" y="595" width="1" height="59" fill="#c0c0c0"/><rect x="660" y="600" width="1" height="54" fill="#c0c0c0"/><rect x="668" y="606" width="1" height="48" fill="#c0c0c0"/><rect x="676" y="614" width="1" height="40" fill="#c0c0c0"/><rect x="684" y="622" width="1" height="32" fill="#c0c0c0"/><rect x="692" y="628" width="1" height="26" fill="#c0c0c0"/><rect x="700" y="640" width="1" height="14" fill="#c0c0c0"/><rect x="708" y="644" width="1" height="10" fill="#c0c0c0"/><rect x="716" y="648" width="1" height="6" fill="#c0c0c0"/><rect x="724" y="651" width="1" height="3" fill="#c0c0c0"/><rect x="732" y="652" width="1" height="2" fill="#c0c0c0"/><rect x="740" y="653" width="1" height="3" fill="#c0c0c0"/><rect x="748" y="653" width="1" height="7" fill="#c0c0c0"/><rect x="756" y="652" width="1" height="2" fill="#c0c0c0"/><rect x="764" y="649" width="1" height="5" fill="#c0c0c0"/><rect x="772" y="651" width="1" height="3" fill="#c0c0c0"/><rect x="780" y="650" width="1" height="4" fill="#c0c0c0"/><rect x="788" y="649" width="1" height="5" fill="#c0c0c0"/><rect x="796" y="646" width="1" height="8" fill="#c0c0c0"/><rect x="804" y="637" width="1" height="17" fill="#c0c0c0"/><rect x="812" y="624" width="1" height="30" fill="#c0c0c0"/><rect x="820" y="616" width="1" height="38" fill="#c0c0c0"/><rect x="828" y="612" width="1" height="42" fill="#c0c0c0"/><rect x="836" y="613" width="1" height="41" fill="#c0c0c0"/><rect x="844" y="612" width="1" height="42" fill="#c0c0c0"/><rect x="852" y="615" width="1" height="39" fill="#c0c0c0"/><rect x="860" y="623" width="1" height="31" fill="#c0c0c0"/><rect x="868" y="628" width="1" height="26" fill="#c0c0c0"/><rect x="876" y="631" width="1" height="23" fill="#c0c0c0"/><rect x="884" y="634" width="1" height="20" fill="#c0c0c0"/><rect x="892" y="636" width="1" height="18" fill="#c0c0c0"/><rect x="900" y="642" width="1" height="12" fill="#c0c0c0"/><rect x="908" y="653" width="1" height="1" fill="#c0c0c0"/><rect x="916" y="653" width="1" height="12" fill="#c0c0c0"/><rect x="924" y="653" width="1" height="32" fill="#c0c0c0"/><rect x="932" y="653" width="1" height="44" fill="#c0c0c0"/><rect x="940" y="653" width="1" height="48" fill="#c0c0c0"/><rect x="948" y="653" width="1" height="53" fill="#c0c0c0"/><rect x="956" y="653" width="1" height="61" fill="#c0c0c0"/><rect x="964" y="653" width="1" height="68" fill="#c0c0c0"/><rect x="972" y="653" width="1" height="70" fill="#c0c0c0"/><rect x="980" y="653" width="1" height="70" fill="#c0c0c0"/><rect x="988" y="653" width="1" height="74" fill="#c0c0c0"/><rect x="996" y="653" width="1" height="81" fill="#c0c0c0"/><rect x="1004" y="653" width="1" height="85" fill="#c0c0c0"/><rect x="1012" y="653" width="1" height="84" fill="#c0c0c0"/><rect x="1020" y="653" width="1" height="79" fill="#c0c0c0"/><rect x="1028" y="653" width="1" height="74" fill="#c0c0c0"/><rect x="1036" y="653" width="1" height="73" fill="#c0c0c0"/><rect x="1044" y="653" width="1" height="71" fill="#c0c0c0"/><rect x="1052" y="653" width="1" height="69" fill="#c0c0c0"/><rect x="1060" y="653" width="1" height="66" fill="#c0c0c0"/><rect x="1068" y="653" width="1" height="64" fill="#c0c0c0"/><rect x="1076" y="653" width="1" height="64" fill="#c0c0c0"/><rect x="1084" y="653" width="1" height="67" fill="#c0c0c0"/><rect x="1092" y="653" width="1" height="58" fill="#c0c0c0"/><rect x="1100" y="653" width="1" height="48" fill="#c0c0c0"/><rect x="1108" y="653" width="1" height="41" fill="#c0c0c0"/><rect x="1116" y="653" width="1" height="32" fill="#c0c0c0"/><rect x="1124" y="653" width="1" height="19" fill="#c0c0c0"/><rect x="1132" y="653" width="1" height="4" fill="#c0c0c0"/><rect x="1140" y="647" width="1" height="7" fill="#c0c0c0"/><rect x="1148" y="642" width="1" height="12" fill="#c0c0c0"/><rect x="1156" y="635" width="1" height="19" fill="#c0c0c0"/><rect x="1164" y="633" width="1" height="21" fill="#c0c0c0"/><rect x="1172" y="632" width="1" height="22" fill="#c0c0c0"/><rect x="1180" y="632" width="1" height="22" fill="#c0c0c0"/><rect x="1188" y="648" width="1" height="6" fill="#c0c0c0"/><rect x="1196" y="653" width="1" height="13" fill="#c0c0c0"/><rect x="1204" y="653" width="1" height="29" fill="#c0c0c0"/><rect x="1212" y="653" width="1" height="42" fill="#c0c0c0"/><rect x="1220" y="653" width="1" height="50" fill="#c0c0c0"/><rect x="1228" y="653" width="1" height="60" fill="#c0c0c0"/><rect x="1236" y="653" width="1" height="55" fill="#c0c0c0"/><rect x="1244" y="653" width="1" height="41" fill="#c0c0c0"/><rect x="1252" y="653" width="1" height="26" fill="#c0c0c0"/><rect x="1260" y="653" width="1" height="15" fill="#c0c0c0"/><rect x="1268" y="653" width="1" height="8" fill="#c0c0c0"/><rect x="1276" y="653" width="1" height="2" fill="#c0c0c0"/><rect x="1284" y="641" width="1" height="13" fill="#c0c0c0"/><rect x="1292" y="640" width="1" height="14" fill="#c0c0c0"/><rect x="1300" y="637" width="1" height="17" fill="#c0c0c0"/><rect x="1308" y="634" width="1" height="20" fill="#c0c0c0"/><rect x="1316" y="632" width="1" height="22" fill="#c0c0c0"/><rect x="1324" y="631" width="1" height="23" fill="#c0c0c0"/><rect x="1332" y="633" width="1" height="21" fill="#c0c0c0"/><rect x="1340" y="640" width="1" height="14" fill="#c0c0c0"/><rect x="1348" y="646" width="1" height="8" fill="#c0c0c0"/><rect x="1356" y="650" width="1" height="4" fill="#c0c0c0"/><rect x="1364" y="653" width="1" height="1" fill="#c0c0c0"/><rect x="1372" y="653" width="1" height="4" fill="#c0c0c0"/><rect x="1380" y="653" width="1" height="9" fill="#c0c0c0"/><rect x="1388" y="653" width="1" height="12" fill="#c0c0c0"/><rect x="1396" y="653" width="1" height="23" fill="#c0c0c0"/><polyline fill="none" stroke="#ff0000" stroke-width="1" stroke-dasharray="3,3" shape-rendering="crispEdges" points="-3.5,667.5 4.5,656.9 12.5,646.5 20.5,638.5 28.5,630.8 36.5,625.2 44.5,621.2 52.5,619.2 60.5,618.8 68.5,620.96 76.5,622.08 84.5,622.13 92.5,621.53 100.5,620.21 108.5,617.72 116.5,614.74 124.5,611.09 132.5,607.21 140.5,604.67 148.5,604.75 156.5,607.4 164.5,612.89 172.5,622.08 180.5,634.61 188.5,648.61 196.5,663.87 204.5,679.69 212.5,694.18 220.5,707.06 228.5,717.41 236.5,724.08 244.5,726.09 252.5,723.98 260.5,718.72 268.5,712.05 276.5,703.95 284.5,695.14 292.5,685.99 300.5,679.36 308.5,674.29 316.5,670.35 324.5,667.52 332.5,666.17 340.5,663.74 348.5,661.1 356.5,657.94 364.5,653.71 372.5,648.94 380.5,644.18 388.5,639.93 396.5,635.8 404.5,631.35 412.5,628.12 420.5,625.18 428.5,623.21 436.5,622.61 444.5,621.84 452.5,621.62 460.5,622.57 468.5,624.82 476.5,627.7 484.5,630.62 492.5,633.95 500.5,636.96 508.5,640.05 516.5,642.54 524.5,644.2 532.5,644.35 540.5,643.55 548.5,642.26 556.5,641.02 564.5,640 572.5,638.99 580.5,637.62 588.5,636.2 596.5,634.84 604.5,633.85 612.5,632.34 620.5,630.21 628.5,627.47 636.5,623.78 644.5,619.79 652.5,615.38 660.5,611.85 668.5,609.37 676.5,607.93 684.5,607.85 692.5,609.24 700.5,612.53 708.5,617 716.5,622.5 724.5,628.73 732.5,634.46 740.5,639.91 748.5,644.9 756.5,648.23 764.5,650.53 772.5,651.76 780.5,652.46 788.5,652.54 796.5,651.98 804.5,650.27 812.5,646.77 820.5,641.97 828.5,637.49 836.5,633.47 844.5,629.18 852.5,625.24 860.5,622.4 868.5,620.45 876.5,619.81 884.5,620.97 892.5,623.15 900.5,626.48 908.5,630.94 916.5,636.68 924.5,644.38 932.5,652.39 940.5,660.39 948.5,668.65 956.5,677.41 964.5,686.78 972.5,695.74 980.5,703.45 988.5,710.29 996.5,715.67 1004.5,720.29 1012.5,724.28 1020.5,727.2 1028.5,728.67 1036.5,729.28 1044.5,729.39 1052.5,729.25 1060.5,728.39 1068.5,726.53 1076.5,724.2 1084.5,722.33 1092.5,719.97 1100.5,717.07 1108.5,713.47 1116.5,709.11 1124.5,703.56 1132.5,696.72 1140.5,689.12 1148.5,680.83 1156.5,671.52 1164.5,662.91 1172.5,655.28 1180.5,648.53 1188.5,644.51 1196.5,643.76 1204.5,646.47 1212.5,651.67 1220.5,658.42 1228.5,666.98 1236.5,675.18 1244.5,682.03 1252.5,687.09 1260.5,689.26 1268.5,688.77 1276.5,685.87 1284.5,679.99 1292.5,673.09 1300.5,664.76 1308.5,656.72 1316.5,649.93 1324.5,644.78 1332.5,641.02 1340.5,638.82 1348.5,637.92 1356.5,638.94 1364.5,640.4 1372.5,642.51 1380.5,645.45 1388.5,648.93 1396.5,653.84"/></g>
<g clip-path="url(#cr)"><line x1="3" y1="790.5" x2="1615" y2="790.5" stroke="#c0c0c0" stroke-width="1" stroke-dasharray="3,3" shape-rendering="crispEdges"/><line x1="3" y1="841.5" x2="1615" y2="841.5" stroke="#c0c0c0" stroke-width="1" stroke-dasharray="3,3" shape-rendering="crispEdges"/><line x1="3" y1="902.5" x2="1615" y2="902.5" stroke="#c0c0c0" stroke-width="1" stroke-dasharray="3,3" shape-rendering="crispEdges"/><polyline fill="none" stroke="#1e90ff" stroke-width="1" shape-rendering="crispEdges" points="-3.5,823.68 4.5,823.68 12.5,825.92 20.5,825.39 28.5,825.2 36.5,835.82 44.5,842.65 52.5,842.16 60.5,845.19 68.5,841.19 76.5,822.56 84.5,812.37 92.5,815.46 100.5,812.82 108.5,811.07 116.5,828.15 124.5,823.34 132.5,831.36 140.5,851.98 148.5,857.97 156.5,852.77 164.5,864.26 172.5,875.58 180.5,878.53 188.5,874.24 196.5,872.71 204.5,873.91 212.5,868.46 220.5,869.1 228.5,845.41 236.5,837.59 244.5,833 252.5,832.4 260.5,830.08 268.5,843.66 276.5,840.25 284.5,840.44 292.5,843.52 300.5,860.1 308.5,844.03 316.5,837.7 324.5,839.35 332.5,844.61 340.5,828.81 348.5,833.64 356.5,829.69 364.5,824.56 372.5,843.75 380.5,836.27 388.5,835.39 396.5,833.31 404.5,832.63 412.5,833.54 420.5,829.26 428.5,834.86 436.5,836.02 444.5,840.33 452.5,839.57 460.5,849.92 468.5,852.56 476.5,845.27 484.5,839.49 492.5,840.34 500.5,836.23 508.5,844.24 516.5,837.9 524.5,832.2 532.5,829.18 540.5,837.49 548.5,834.79 556.5,835.82 564.5,840.72 572.5,832.51 580.5,834.43 588.5,831.21 596.5,826.54 604.5,829.09 612.5,822.03 620.5,815.82 628.5,814.34 636.5,810.37 644.5,809.65 652.5,807.82 660.5,834.93 668.5,836.92 676.5,843.32 684.5,846.02 692.5,846.58 700.5,859.86 708.5,847.04 716.5,849.01 724.5,845.8 732.5,844.9 740.5,850.81 748.5,853.26 756.5,828.3 764.5,836.11 772.5,844.43 780.5,840.48 788.5,838.26 796.5,832.93 804.5,821 812.5,812.55 820.5,816.79 828.5,820.74 836.5,832.02 844.5,827.61 852.5,834.59 860.5,847.38 868.5,842.13 876.5,839.87 884.5,842.55 892.5,838.2 900.5,849.03 908.5,860.87 916.5,863.44 924.5,878.23 932.5,868.81 940.5,860.38 948.5,863.17 956.5,869.09 964.5,870.02 972.5,865.56 980.5,863.43 988.5,868.62 996.5,875.4 1004.5,875.53 1012.5,865.09 1020.5,858.9 1028.5,857.55 1036.5,863.45 1044.5,862.27 1052.5,863.24 1060.5,859.97 1068.5,862.58 1076.5,867.96 1084.5,873.2 1092.5,845.62 1100.5,841 1108.5,842.44 1116.5,836.74 1124.5,826.9 1132.5,818.99 1140.5,826.4 1148.5,829.08 1156.5,825.57 1164.5,831.47 1172.5,833.16 1180.5,835.48 1188.5,864.27 1196.5,869.97 1204.5,873.64 1212.5,875.06 1220.5,870.17 1228.5,875.18 1236.5,848.1 1244.5,835.6 1252.5,829.1 1260.5,833.04 1268.5,834.94 1276.5,834.94 1284.5,822.84 1292.5,838.54 1300.5,835.35 1308.5,834.11 1316.5,834.51 1324.5,834.93 1332.5,840.3 1340.5,848.94 1348.5,850.07 1356.5,848.2 1364.5,847.71 1372.5,848.86 1380.5,853.44 1388.5,852.26 1396.5,869.26"/></g>
<rect x="0" y="27" width="1616" height="1" fill="#000"/>
<rect x="0" y="580" width="1616" height="1" fill="#000"/>
<rect x="0" y="582" width="1616" height="1" fill="#000"/>
<rect x="0" y="752" width="1616" height="1" fill="#000"/>
<rect x="0" y="754" width="1616" height="1" fill="#000"/>
<rect x="0" y="928" width="1616" height="1" fill="#000"/>
<rect x="1615" y="27" width="1" height="902" fill="#000"/>
<rect x="1661" y="24" width="1" height="923" fill="#d8d8d8"/>
<polygon points="1398.5,28 1408.5,28 1403.5,33" fill="#c0c0c0"/>
<rect x="1616" y="49" width="2" height="1" fill="#000"/>
<rect x="1616" y="82" width="2" height="1" fill="#000"/>
<rect x="1616" y="115" width="2" height="1" fill="#000"/>
<rect x="1616" y="148" width="2" height="1" fill="#000"/>
<rect x="1616" y="181" width="2" height="1" fill="#000"/>
<rect x="1616" y="214" width="2" height="1" fill="#000"/>
<rect x="1616" y="247" width="2" height="1" fill="#000"/>
<rect x="1616" y="280" width="2" height="1" fill="#000"/>
<rect x="1616" y="313" width="2" height="1" fill="#000"/>
<rect x="1616" y="346" width="2" height="1" fill="#000"/>
<rect x="1616" y="379" width="2" height="1" fill="#000"/>
<rect x="1616" y="412" width="2" height="1" fill="#000"/>
<rect x="1616" y="445" width="2" height="1" fill="#000"/>
<rect x="1616" y="478" width="2" height="1" fill="#000"/>
<rect x="1616" y="511" width="2" height="1" fill="#000"/>
<rect x="1616" y="544" width="2" height="1" fill="#000"/>
<rect x="1616" y="577" width="2" height="1" fill="#000"/>
<rect x="1617" y="398" width="41" height="11" fill="#ff0000"/>
<rect x="1610.5" y="402.5" width="4" height="4" fill="#fff" stroke="#ff0000" stroke-width="1"/>
<rect x="0" y="402" width="1" height="5" fill="#ff0000"/>
<rect x="1617" y="426" width="41" height="11" fill="#ff0000"/>
<rect x="1610.5" y="430.5" width="4" height="4" fill="#fff" stroke="#ff0000" stroke-width="1"/>
<rect x="0" y="430" width="1" height="5" fill="#ff0000"/>
<rect x="1617" y="455" width="41" height="11" fill="#32cd32"/>
<rect x="1617" y="483" width="41" height="11" fill="#000000"/>
<rect x="1617" y="515" width="41" height="11" fill="#0000ff"/>
<rect x="1610.5" y="519.5" width="4" height="4" fill="#fff" stroke="#0000ff" stroke-width="1"/>
<rect x="0" y="519" width="1" height="5" fill="#0000ff"/>
<rect x="1617" y="546" width="41" height="11" fill="#0000ff"/>
<rect x="1610.5" y="550.5" width="4" height="4" fill="#fff" stroke="#0000ff" stroke-width="1"/>
<rect x="0" y="550" width="1" height="5" fill="#0000ff"/>
<rect x="1616" y="584" width="3" height="1" fill="#000"/>
<rect x="1616" y="653" width="3" height="1" fill="#000"/>
<rect x="1616" y="751" width="3" height="1" fill="#000"/>
<rect x="1616" y="755" width="3" height="1" fill="#000"/>
<rect x="1616" y="927" width="3" height="1" fill="#000"/>
<rect x="60" y="929" width="1" height="3" fill="#000"/>
<rect x="124" y="929" width="1" height="3" fill="#000"/>
<rect x="188" y="929" width="1" height="3" fill="#000"/>
<rect x="252" y="929" width="1" height="3" fill="#000"/>
<rect x="316" y="929" width="1" height="3" fill="#000"/>
<rect x="380" y="929" width="1" height="3" fill="#000"/>
<rect x="444" y="929" width="1" height="3" fill="#000"/>
<rect x="508" y="929" width="1" height="3" fill="#000"/>
<rect x="572" y="929" width="1" height="3" fill="#000"/>
<rect x="636" y="929" width="1" height="3" fill="#000"/>
<rect x="700" y="929" width="1" height="3" fill="#000"/>
<rect x="764" y="929" width="1" height="3" fill="#000"/>
<rect x="828" y="929" width="1" height="3" fill="#000"/>
<rect x="892" y="929" width="1" height="3" fill="#000"/>
<rect x="956" y="929" width="1" height="3" fill="#000"/>
<rect x="1020" y="929" width="1" height="3" fill="#000"/>
<rect x="1084" y="929" width="1" height="3" fill="#000"/>
<rect x="1148" y="929" width="1" height="3" fill="#000"/>
<rect x="1212" y="929" width="1" height="3" fill="#000"/>
<rect x="1276" y="929" width="1" height="3" fill="#000"/>
<rect x="1340" y="929" width="1" height="3" fill="#000"/>
<polygon points="0.5,38 6.5,38 3.5,34" fill="#000"/>
<line x1="1517" y1="461.5" x2="1527" y2="461.5" stroke="#ff0000" stroke-width="1"/>
<rect x="1524.5" y="459.5" width="3" height="3" fill="#fff" stroke="#ff0000"/>
<rect x="1527.5" y="449.5" width="73" height="24" fill="#fff" stroke="#ff0000" stroke-width="1"/>
<text x="1621" y="52.5" font-family="'Liberation Sans', 'DejaVu Sans', Arial, sans-serif" font-size="9.8" fill="#000" text-anchor="start" font-weight="normal" textLength="32.53" lengthAdjust="spacingAndGlyphs">144.635</text><text x="1621" y="85.5" font-family="'Liberation Sans', 'DejaVu Sans', Arial, sans-serif" font-size="9.8" fill="#000" text-anchor="start" font-weight="normal" textLength="32.53" lengthAdjust="spacingAndGlyphs">144.395</text><text x="1621" y="118.5" font-family="'Liberation Sans', 'DejaVu Sans', Arial, sans-serif" font-size="9.8" fill="#000" text-anchor="start" font-weight="normal" textLength="32.53" lengthAdjust="spacingAndGlyphs">144.150</text><text x="1621" y="151.5" font-family="'Liberation Sans', 'DejaVu Sans', Arial, sans-serif" font-size="9.8" fill="#000" text-anchor="start" font-weight="normal" textLength="32.53" lengthAdjust="spacingAndGlyphs">143.905</text><text x="1621" y="184.5" font-family="'Liberation Sans', 'DejaVu Sans', Arial, sans-serif" font-size="9.8" fill="#000" text-anchor="start" font-weight="normal" textLength="32.53" lengthAdjust="spacingAndGlyphs">143.660</text><text x="1621" y="217.5" font-family="'Liberation Sans', 'DejaVu Sans', Arial, sans-serif" font-size="9.8" fill="#000" text-anchor="start" font-weight="normal" textLength="32.53" lengthAdjust="spacingAndGlyphs">143.420</text><text x="1621" y="250.5" font-family="'Liberation Sans', 'DejaVu Sans', Arial, sans-serif" font-size="9.8" fill="#000" text-anchor="start" font-weight="normal" textLength="32.53" lengthAdjust="spacingAndGlyphs">143.175</text><text x="1621" y="283.5" font-family="'Liberation Sans', 'DejaVu Sans', Arial, sans-serif" font-size="9.8" fill="#000" text-anchor="start" font-weight="normal" textLength="32.53" lengthAdjust="spacingAndGlyphs">142.930</text><text x="1621" y="316.5" font-family="'Liberation Sans', 'DejaVu Sans', Arial, sans-serif" font-size="9.8" fill="#000" text-anchor="start" font-weight="normal" textLength="32.53" lengthAdjust="spacingAndGlyphs">142.685</text><text x="1621" y="349.5" font-family="'Liberation Sans', 'DejaVu Sans', Arial, sans-serif" font-size="9.8" fill="#000" text-anchor="start" font-weight="normal" textLength="32.53" lengthAdjust="spacingAndGlyphs">142.445</text><text x="1621" y="382.5" font-family="'Liberation Sans', 'DejaVu Sans', Arial, sans-serif" font-size="9.8" fill="#000" text-anchor="start" font-weight="normal" textLength="32.53" lengthAdjust="spacingAndGlyphs">142.200</text><text x="1621" y="415.5" font-family="'Liberation Sans', 'DejaVu Sans', Arial, sans-serif" font-size="9.8" fill="#000" text-anchor="start" font-weight="normal" textLength="32.53" lengthAdjust="spacingAndGlyphs">141.955</text><text x="1621" y="448.5" font-family="'Liberation Sans', 'DejaVu Sans', Arial, sans-serif" font-size="9.8" fill="#000" text-anchor="start" font-weight="normal" textLength="32.53" lengthAdjust="spacingAndGlyphs">141.710</text><text x="1621" y="481.5" font-family="'Liberation Sans', 'DejaVu Sans', Arial, sans-serif" font-size="9.8" fill="#000" text-anchor="start" font-weight="normal" textLength="32.53" lengthAdjust="spacingAndGlyphs">141.470</text><text x="1621" y="514.5" font-family="'Liberation Sans', 'DejaVu Sans', Arial, sans-serif" font-size="9.8" fill="#000" text-anchor="start" font-weight="normal" textLength="32.53" lengthAdjust="spacingAndGlyphs">141.225</text><text x="1621" y="547.5" font-family="'Liberation Sans', 'DejaVu Sans', Arial, sans-serif" font-size="9.8" fill="#000" text-anchor="start" font-weight="normal" textLength="32.53" lengthAdjust="spacingAndGlyphs">140.980</text><text x="1621" y="580.5" font-family="'Liberation Sans', 'DejaVu Sans', Arial, sans-serif" font-size="9.8" fill="#000" text-anchor="start" font-weight="normal" textLength="32.53" lengthAdjust="spacingAndGlyphs">140.735</text><text x="1621" y="407.0" font-family="'Liberation Sans', 'DejaVu Sans', Arial, sans-serif" font-size="9.8" fill="#fff" text-anchor="start" font-weight="normal" textLength="32.53" lengthAdjust="spacingAndGlyphs">142.018</text><text x="1621" y="435.0" font-family="'Liberation Sans', 'DejaVu Sans', Arial, sans-serif" font-size="9.8" fill="#fff" text-anchor="start" font-weight="normal" textLength="31.86" lengthAdjust="spacingAndGlyphs">141.811</text><text x="1621" y="464.0" font-family="'Liberation Sans', 'DejaVu Sans', Arial, sans-serif" font-size="9.8" fill="#fff" text-anchor="start" font-weight="normal" textLength="32.53" lengthAdjust="spacingAndGlyphs">141.597</text><text x="1621" y="492.0" font-family="'Liberation Sans', 'DejaVu Sans', Arial, sans-serif" font-size="9.8" fill="#fff" text-anchor="start" font-weight="normal" textLength="32.53" lengthAdjust="spacingAndGlyphs">141.398</text><text x="1621" y="524.0" font-family="'Liberation Sans', 'DejaVu Sans', Arial, sans-serif" font-size="9.8" fill="#fff" text-anchor="start" font-weight="normal" textLength="32.53" lengthAdjust="spacingAndGlyphs">141.155</text><text x="1621" y="555.0" font-family="'Liberation Sans', 'DejaVu Sans', Arial, sans-serif" font-size="9.8" fill="#fff" text-anchor="start" font-weight="normal" textLength="32.53" lengthAdjust="spacingAndGlyphs">140.926</text><text x="1619" y="593.5" font-family="'Liberation Sans', 'DejaVu Sans', Arial, sans-serif" font-size="9.8" fill="#000" text-anchor="start" font-weight="normal" textLength="27.52" lengthAdjust="spacingAndGlyphs">0.3734</text><text x="1619" y="656.5" font-family="'Liberation Sans', 'DejaVu Sans', Arial, sans-serif" font-size="9.8" fill="#000" text-anchor="start" font-weight="normal" textLength="17.51" lengthAdjust="spacingAndGlyphs">0.00</text><text x="1619" y="749.5" font-family="'Liberation Sans', 'DejaVu Sans', Arial, sans-serif" font-size="9.8" fill="#000" text-anchor="start" font-weight="normal" textLength="30.52" lengthAdjust="spacingAndGlyphs">-0.5231</text><text x="1618.5" y="765.5" font-family="'Liberation Sans', 'DejaVu Sans', Arial, sans-serif" font-size="9.8" fill="#000" text-anchor="start" font-weight="normal" textLength="15.01" lengthAdjust="spacingAndGlyphs">100</text><text x="1618.5" y="793.5" font-family="'Liberation Sans', 'DejaVu Sans', Arial, sans-serif" font-size="9.8" fill="#000" text-anchor="start" font-weight="normal" textLength="10.01" lengthAdjust="spacingAndGlyphs">80</text><text x="1618.5" y="844.5" font-family="'Liberation Sans', 'DejaVu Sans', Arial, sans-serif" font-size="9.8" fill="#000" text-anchor="start" font-weight="normal" textLength="10.01" lengthAdjust="spacingAndGlyphs">50</text><text x="1618.5" y="905.5" font-family="'Liberation Sans', 'DejaVu Sans', Arial, sans-serif" font-size="9.8" fill="#000" text-anchor="start" font-weight="normal" textLength="10.01" lengthAdjust="spacingAndGlyphs">15</text><text x="1618.5" y="924.5" font-family="'Liberation Sans', 'DejaVu Sans', Arial, sans-serif" font-size="9.8" fill="#000" text-anchor="start" font-weight="normal" textLength="5.00" lengthAdjust="spacingAndGlyphs">0</text><text x="-5.6" y="940.8" font-family="'Liberation Sans', 'DejaVu Sans', Arial, sans-serif" font-size="9.8" fill="#000" text-anchor="start" font-weight="normal" textLength="51.60" lengthAdjust="spacingAndGlyphs">27 Dec 2019</text><text x="59" y="940.8" font-family="'Liberation Sans', 'DejaVu Sans', Arial, sans-serif" font-size="9.8" fill="#000" text-anchor="start" font-weight="normal" textLength="54.13" lengthAdjust="spacingAndGlyphs">31 Dec 00:00</text><text x="123" y="940.8" font-family="'Liberation Sans', 'DejaVu Sans', Arial, sans-serif" font-size="9.8" fill="#000" text-anchor="start" font-weight="normal" textLength="47.56" lengthAdjust="spacingAndGlyphs">2 Jan 04:00</text><text x="187" y="940.8" font-family="'Liberation Sans', 'DejaVu Sans', Arial, sans-serif" font-size="9.8" fill="#000" text-anchor="start" font-weight="normal" textLength="47.56" lengthAdjust="spacingAndGlyphs">3 Jan 12:00</text><text x="251" y="940.8" font-family="'Liberation Sans', 'DejaVu Sans', Arial, sans-serif" font-size="9.8" fill="#000" text-anchor="start" font-weight="normal" textLength="47.56" lengthAdjust="spacingAndGlyphs">6 Jan 20:00</text><text x="315" y="940.8" font-family="'Liberation Sans', 'DejaVu Sans', Arial, sans-serif" font-size="9.8" fill="#000" text-anchor="start" font-weight="normal" textLength="47.56" lengthAdjust="spacingAndGlyphs">8 Jan 04:00</text><text x="379" y="940.8" font-family="'Liberation Sans', 'DejaVu Sans', Arial, sans-serif" font-size="9.8" fill="#000" text-anchor="start" font-weight="normal" textLength="47.56" lengthAdjust="spacingAndGlyphs">9 Jan 12:00</text><text x="443" y="940.8" font-family="'Liberation Sans', 'DejaVu Sans', Arial, sans-serif" font-size="9.8" fill="#000" text-anchor="start" font-weight="normal" textLength="52.62" lengthAdjust="spacingAndGlyphs">12 Jan 23:00</text><text x="507" y="940.8" font-family="'Liberation Sans', 'DejaVu Sans', Arial, sans-serif" font-size="9.8" fill="#000" text-anchor="start" font-weight="normal" textLength="52.62" lengthAdjust="spacingAndGlyphs">14 Jan 04:00</text><text x="571" y="940.8" font-family="'Liberation Sans', 'DejaVu Sans', Arial, sans-serif" font-size="9.8" fill="#000" text-anchor="start" font-weight="normal" textLength="52.62" lengthAdjust="spacingAndGlyphs">15 Jan 12:00</text><text x="635" y="940.8" font-family="'Liberation Sans', 'DejaVu Sans', Arial, sans-serif" font-size="9.8" fill="#000" text-anchor="start" font-weight="normal" textLength="52.62" lengthAdjust="spacingAndGlyphs">16 Jan 20:00</text><text x="699" y="940.8" font-family="'Liberation Sans', 'DejaVu Sans', Arial, sans-serif" font-size="9.8" fill="#000" text-anchor="start" font-weight="normal" textLength="52.62" lengthAdjust="spacingAndGlyphs">20 Jan 04:00</text><text x="763" y="940.8" font-family="'Liberation Sans', 'DejaVu Sans', Arial, sans-serif" font-size="9.8" fill="#000" text-anchor="start" font-weight="normal" textLength="52.62" lengthAdjust="spacingAndGlyphs">21 Jan 12:00</text><text x="827" y="940.8" font-family="'Liberation Sans', 'DejaVu Sans', Arial, sans-serif" font-size="9.8" fill="#000" text-anchor="start" font-weight="normal" textLength="52.62" lengthAdjust="spacingAndGlyphs">22 Jan 20:00</text><text x="891" y="940.8" font-family="'Liberation Sans', 'DejaVu Sans', Arial, sans-serif" font-size="9.8" fill="#000" text-anchor="start" font-weight="normal" textLength="52.62" lengthAdjust="spacingAndGlyphs">24 Jan 04:00</text><text x="955" y="940.8" font-family="'Liberation Sans', 'DejaVu Sans', Arial, sans-serif" font-size="9.8" fill="#000" text-anchor="start" font-weight="normal" textLength="52.62" lengthAdjust="spacingAndGlyphs">27 Jan 12:00</text><text x="1019" y="940.8" font-family="'Liberation Sans', 'DejaVu Sans', Arial, sans-serif" font-size="9.8" fill="#000" text-anchor="start" font-weight="normal" textLength="52.62" lengthAdjust="spacingAndGlyphs">28 Jan 20:00</text><text x="1083" y="940.8" font-family="'Liberation Sans', 'DejaVu Sans', Arial, sans-serif" font-size="9.8" fill="#000" text-anchor="start" font-weight="normal" textLength="52.62" lengthAdjust="spacingAndGlyphs">30 Jan 04:00</text><text x="1147" y="940.8" font-family="'Liberation Sans', 'DejaVu Sans', Arial, sans-serif" font-size="9.8" fill="#000" text-anchor="start" font-weight="normal" textLength="52.62" lengthAdjust="spacingAndGlyphs">31 Jan 12:00</text><text x="1211" y="940.8" font-family="'Liberation Sans', 'DejaVu Sans', Arial, sans-serif" font-size="9.8" fill="#000" text-anchor="start" font-weight="normal" textLength="48.56" lengthAdjust="spacingAndGlyphs">3 Feb 20:00</text><text x="1275" y="940.8" font-family="'Liberation Sans', 'DejaVu Sans', Arial, sans-serif" font-size="9.8" fill="#000" text-anchor="start" font-weight="normal" textLength="48.56" lengthAdjust="spacingAndGlyphs">5 Feb 04:00</text><text x="1339" y="940.8" font-family="'Liberation Sans', 'DejaVu Sans', Arial, sans-serif" font-size="9.8" fill="#000" text-anchor="start" font-weight="normal" textLength="48.56" lengthAdjust="spacingAndGlyphs">6 Feb 12:00</text><text x="0" y="595" font-family="'Liberation Sans', 'DejaVu Sans', Arial, sans-serif" font-size="9" fill="#000" text-anchor="start" font-weight="normal" textLength="133" lengthAdjust="spacingAndGlyphs">MACD(12,26,9) -0.1169 -0.0000</text><text x="0" y="767" font-family="'Liberation Sans', 'DejaVu Sans', Arial, sans-serif" font-size="9" fill="#000" text-anchor="start" font-weight="normal" textLength="67.5" lengthAdjust="spacingAndGlyphs">RSI(14) 34.4904</text><text x="11" y="38.5" font-family="'Liberation Sans', 'DejaVu Sans', Arial, sans-serif" font-size="9" fill="#000" text-anchor="start" font-weight="normal" textLength="199.5" lengthAdjust="spacingAndGlyphs">GBPJPY-,H4&#160;&#160;142.028 142.028 141.394 141.398</text><text x="1529" y="470" font-family="'Liberation Sans', 'DejaVu Sans', Arial, sans-serif" font-size="23" fill="#ff0000" text-anchor="start" font-weight="normal" textLength="70.5" lengthAdjust="spacingAndGlyphs">141.597</text><text x="0" y="541.5" transform="matrix(1.07,0,0,1,1438.7,0)" font-family="'Noto Serif CJK SC', serif" font-weight="500" font-size="33" fill="#000" letter-spacing="-2.05">多空转折点</text><text x="0" y="540.5" transform="matrix(1.07,0,0,1,1437.7,0)" font-family="'Noto Serif CJK SC', serif" font-weight="500" font-size="33" fill="#00ff00" letter-spacing="-2.05">多空转折点</text>
</svg>
<svg width="1662" height="27" viewBox="0 0 1662 27" style="position:absolute;left:0;top:0"><defs><pattern id="dots" width="2" height="2" patternUnits="userSpaceOnUse"><rect width="2" height="2" fill="#f7f7f7"/><rect width="1" height="1" fill="#e6e6e6"/><rect x="1" y="1" width="1" height="1" fill="#e6e6e6"/></pattern><linearGradient id="gold" x1="0" y1="0" x2="0" y2="1"><stop offset="0" stop-color="#f7d774"/><stop offset="1" stop-color="#b8860b"/></linearGradient><linearGradient id="blu" x1="0" y1="0" x2="0" y2="1"><stop offset="0" stop-color="#8fc4f4"/><stop offset="1" stop-color="#2a6fc0"/></linearGradient></defs><rect x="0" y="0" width="1662" height="22" fill="#f0f0f0"/><rect x="0" y="22" width="1662" height="1" fill="#f6f6f6"/><rect x="0" y="23" width="1662" height="1" fill="#a3a3a3"/><rect x="0" y="24" width="1662" height="1" fill="#6b6b6b"/><rect x="0" y="25" width="1662" height="2" fill="#ffffff"/><rect x="251" y="1" width="24" height="21" fill="url(#dots)"/><rect x="403" y="1" width="24" height="21" fill="url(#dots)"/><rect x="431" y="1" width="25" height="21" fill="url(#dots)"/><rect x="591" y="1" width="24" height="21" fill="url(#dots)"/><rect x="1037" y="1" width="24" height="21" fill="url(#dots)"/><rect x="212" y="1" width="1" height="21" fill="#a0a0a0"/><rect x="213" y="1" width="1" height="21" fill="#ffffff"/><rect x="250" y="1" width="1" height="21" fill="#a0a0a0"/><rect x="251" y="1" width="1" height="21" fill="#ffffff"/><rect x="307" y="1" width="1" height="21" fill="#a0a0a0"/><rect x="308" y="1" width="1" height="21" fill="#ffffff"/><rect x="397" y="1" width="1" height="21" fill="#a0a0a0"/><rect x="398" y="1" width="1" height="21" fill="#ffffff"/><rect x="402" y="1" width="1" height="21" fill="#a0a0a0"/><rect x="403" y="1" width="1" height="21" fill="#ffffff"/><rect x="430" y="1" width="1" height="21" fill="#a0a0a0"/><rect x="431" y="1" width="1" height="21" fill="#ffffff"/><rect x="459" y="1" width="1" height="21" fill="#a0a0a0"/><rect x="460" y="1" width="1" height="21" fill="#ffffff"/><rect x="580" y="1" width="1" height="21" fill="#a0a0a0"/><rect x="581" y="1" width="1" height="21" fill="#ffffff"/><rect x="590" y="1" width="1" height="21" fill="#a0a0a0"/><rect x="591" y="1" width="1" height="21" fill="#ffffff"/><rect x="647" y="1" width="1" height="21" fill="#a0a0a0"/><rect x="648" y="1" width="1" height="21" fill="#ffffff"/><rect x="886" y="1" width="1" height="21" fill="#a0a0a0"/><rect x="887" y="1" width="1" height="21" fill="#ffffff"/><rect x="1036" y="1" width="1" height="21" fill="#a0a0a0"/><rect x="1037" y="1" width="1" height="21" fill="#ffffff"/><rect x="1147" y="1" width="1" height="21" fill="#a0a0a0"/><rect x="1148" y="1" width="1" height="21" fill="#ffffff"/><rect x="216" y="2" width="3" height="1" fill="#a8a8a8"/><rect x="216" y="4" width="3" height="1" fill="#a8a8a8"/><rect x="216" y="6" width="3" height="1" fill="#a8a8a8"/><rect x="216" y="8" width="3" height="1" fill="#a8a8a8"/><rect x="216" y="10" width="3" height="1" fill="#a8a8a8"/><rect x="216" y="12" width="3" height="1" fill="#a8a8a8"/><rect x="216" y="14" width="3" height="1" fill="#a8a8a8"/><rect x="216" y="16" width="3" height="1" fill="#a8a8a8"/><rect x="216" y="18" width="3" height="1" fill="#a8a8a8"/><rect x="216" y="20" width="3" height="1" fill="#a8a8a8"/><rect x="585" y="2" width="3" height="1" fill="#a8a8a8"/><rect x="585" y="4" width="3" height="1" fill="#a8a8a8"/><rect x="585" y="6" width="3" height="1" fill="#a8a8a8"/><rect x="585" y="8" width="3" height="1" fill="#a8a8a8"/><rect x="585" y="10" width="3" height="1" fill="#a8a8a8"/><rect x="585" y="12" width="3" height="1" fill="#a8a8a8"/><rect x="585" y="14" width="3" height="1" fill="#a8a8a8"/><rect x="585" y="16" width="3" height="1" fill="#a8a8a8"/><rect x="585" y="18" width="3" height="1" fill="#a8a8a8"/><rect x="585" y="20" width="3" height="1" fill="#a8a8a8"/><rect x="891" y="2" width="3" height="1" fill="#a8a8a8"/><rect x="891" y="4" width="3" height="1" fill="#a8a8a8"/><rect x="891" y="6" width="3" height="1" fill="#a8a8a8"/><rect x="891" y="8" width="3" height="1" fill="#a8a8a8"/><rect x="891" y="10" width="3" height="1" fill="#a8a8a8"/><rect x="891" y="12" width="3" height="1" fill="#a8a8a8"/><rect x="891" y="14" width="3" height="1" fill="#a8a8a8"/><rect x="891" y="16" width="3" height="1" fill="#a8a8a8"/><rect x="891" y="18" width="3" height="1" fill="#a8a8a8"/><rect x="891" y="20" width="3" height="1" fill="#a8a8a8"/><rect x="0" y="12" width="2" height="4" fill="#2a9d2a"/><text x="4.5" y="13.6" font-family="'Noto Sans CJK SC', sans-serif" font-size="12" fill="#000" font-weight="500">新订单</text><text x="157" y="13.6" font-family="'Noto Sans CJK SC', sans-serif" font-size="12" fill="#000" font-weight="500">自动交易</text><text x="902" y="14.6" font-family="'Liberation Sans', 'DejaVu Sans', Arial, sans-serif" font-size="9.3" fill="#333" font-weight="normal">M1</text><text x="930" y="14.6" font-family="'Liberation Sans', 'DejaVu Sans', Arial, sans-serif" font-size="9.3" fill="#333" font-weight="normal">M5</text><text x="956" y="14.6" font-family="'Liberation Sans', 'DejaVu Sans', Arial, sans-serif" font-size="9.3" fill="#333" font-weight="normal">M15</text><text x="984" y="14.6" font-family="'Liberation Sans', 'DejaVu Sans', Arial, sans-serif" font-size="9.3" fill="#333" font-weight="normal">M30</text><text x="1014" y="14.6" font-family="'Liberation Sans', 'DejaVu Sans', Arial, sans-serif" font-size="9.3" fill="#333" font-weight="normal">H1</text><text x="1042" y="14.6" font-family="'Liberation Sans', 'DejaVu Sans', Arial, sans-serif" font-size="9.3" fill="#333" font-weight="normal">H4</text><text x="1071" y="14.6" font-family="'Liberation Sans', 'DejaVu Sans', Arial, sans-serif" font-size="9.3" fill="#333" font-weight="normal">D1</text><text x="1098" y="14.6" font-family="'Liberation Sans', 'DejaVu Sans', Arial, sans-serif" font-size="9.3" fill="#333" font-weight="normal">W1</text><text x="1125" y="14.6" font-family="'Liberation Sans', 'DejaVu Sans', Arial, sans-serif" font-size="9.3" fill="#333" font-weight="normal">MN</text><path d="M54,11 L60,5 L68,11 L63,18 Z" fill="url(#gold)" stroke="#8b6508" stroke-width="0.8"/><path d="M56,14 L63,18 L68,12" fill="none" stroke="#7a5a10" stroke-width="1"/><rect x="83" y="3" width="9" height="10" fill="url(#blu)" stroke="#2a5ea8" stroke-width="0.8"/><rect x="85" y="5" width="3" height="1" fill="#fff"/><ellipse cx="89" cy="15.5" rx="7.5" ry="3.2" fill="#eef3fa" stroke="#6d8fb8" stroke-width="0.9"/><circle cx="91" cy="13" r="3" fill="#eef3fa" stroke="#6d8fb8" stroke-width="0.9"/><ellipse cx="89" cy="16" rx="6.8" ry="2.5" fill="#eef3fa"/><circle cx="116.5" cy="10.5" r="7" fill="none" stroke="#7aa0d8" stroke-width="1"/><circle cx="116.5" cy="10.5" r="4.5" fill="none" stroke="#6b8fd0" stroke-width="1"/><circle cx="116.5" cy="10.5" r="1.6" fill="#2850c0"/><path d="M117,11 L117,18 M117,18 Q122,17 123,12" fill="none" stroke="#2e9a3a" stroke-width="1.6"/><ellipse cx="144" cy="8" rx="7" ry="3.5" fill="#5aa8e8" stroke="#2a6fb0" stroke-width="0.8"/><path d="M138,10 L150,10 L146,18 L141,17 Z" fill="#f2c94c" stroke="#b8860b" stroke-width="0.8"/><circle cx="148.5" cy="14.5" r="4" fill="#d42020"/><rect x="147" y="13" width="3" height="3" fill="#fff"/><rect x="230" y="6" width="1" height="13" fill="#555"/><path d="M228.5,7.5 L230.5,4.5 L232.5,7.5 Z" fill="#555"/><rect x="228" y="16" width="13" height="1" fill="#555"/><path d="M241,14 L244,16.5 L241,19 Z" fill="#555"/><g fill="#138a13"><rect x="236" y="6" width="1" height="9"/><rect x="237" y="7" width="2" height="1"/><rect x="234" y="13" width="2" height="1"/></g><rect x="258" y="6" width="1" height="13" fill="#555"/><path d="M256.5,7.5 L258.5,4.5 L260.5,7.5 Z" fill="#555"/><rect x="256" y="16" width="13" height="1" fill="#555"/><path d="M269,14 L272,16.5 L269,19 Z" fill="#555"/><defs><linearGradient id="cg" x1="0" y1="0" x2="1" y2="0"><stop offset="0" stop-color="#2cc82c"/><stop offset="0.5" stop-color="#8cff8c"/><stop offset="1" stop-color="#2cc82c"/></linearGradient></defs><rect x="264" y="3" width="1" height="12" fill="#0d8a0d"/><rect x="262.5" y="5.5" width="4" height="7.5" fill="url(#cg)" stroke="#0d8a0d" stroke-width="1"/><rect x="286" y="6" width="1" height="13" fill="#555"/><path d="M284.5,7.5 L286.5,4.5 L288.5,7.5 Z" fill="#555"/><rect x="284" y="16" width="13" height="1" fill="#555"/><path d="M297,14 L300,16.5 L297,19 Z" fill="#555"/><path d="M285.5,13.5 Q288.5,8 291,8.3 Q293.5,9 297,12.3" fill="none" stroke="#1f9a1f" stroke-width="1.1"/><line x1="325" y1="14" x2="330" y2="19" stroke="#c8a020" stroke-width="3"/><circle cx="322" cy="9" r="5.5" fill="#cfe6fa" stroke="#2a6ac0" stroke-width="1.3"/><rect x="319" y="8" width="6" height="2" fill="#2a6ac0"/><rect x="321" y="6" width="2" height="6" fill="#2a6ac0"/><line x1="353" y1="14" x2="358" y2="19" stroke="#c8a020" stroke-width="3"/><circle cx="350" cy="9" r="5.5" fill="#cfe6fa" stroke="#2a6ac0" stroke-width="1.3"/><rect x="347" y="8" width="6" height="2" fill="#2a6ac0"/><rect x="372" y="3" width="8" height="7" fill="#3aa83a"/><rect x="380" y="3" width="8" height="7" fill="#2a5ed0"/><rect x="372" y="10" width="8" height="8" fill="#2a5ed0"/><rect x="380" y="10" width="8" height="8" fill="#3aa83a"/><g fill="#fff"><rect x="374" y="6" width="5" height="2"/><rect x="382" y="6" width="5" height="2"/><rect x="374" y="13" width="5" height="2"/><rect x="382" y="13" width="5" height="2"/></g><rect x="410" y="6" width="1" height="13" fill="#555"/><path d="M408.5,7.5 L410.5,4.5 L412.5,7.5 Z" fill="#555"/><rect x="408" y="16" width="13" height="1" fill="#555"/><path d="M421,14 L424,16.5 L421,19 Z" fill="#555"/><path d="M415.5,7.5 L419.5,10.5 L415.5,13.5 Z" fill="#7cf07c" stroke="#139a13" stroke-width="1.1"/><rect x="438" y="6" width="1" height="13" fill="#555"/><path d="M436.5,7.5 L438.5,4.5 L440.5,7.5 Z" fill="#555"/><rect x="436" y="16" width="13" height="1" fill="#555"/><path d="M449,14 L452,16.5 L449,19 Z" fill="#555"/><rect x="444" y="5" width="1" height="10" fill="#1a6ea0"/><rect x="446" y="10" width="4" height="1" fill="#d04a10"/><path d="M445,10.5 L448,7.8 L448,13.2 Z" fill="#e05a10"/><path d="M469.5,3.5 H478 L480.5,6 V15.5 H469.5 Z" fill="#fff" stroke="#666" stroke-width="1"/><path d="M478,12 H486 M482,8 V19" stroke="#20b020" stroke-width="3"/><defs><radialGradient id="clk" cx="0.45" cy="0.4" r="0.6"><stop offset="0" stop-color="#ffffff"/><stop offset="1" stop-color="#cfe0f5"/></radialGradient></defs><circle cx="515" cy="10.5" r="7.8" fill="#1d5cc4"/><circle cx="515" cy="10.5" r="5.4" fill="url(#clk)"/><path d="M515,6.5 V10.5 H518" stroke="#333" stroke-width="1" fill="none"/><rect x="546.5" y="4.5" width="15" height="13" fill="#fff" stroke="#3a6ab0"/><rect x="547" y="5" width="14" height="2" fill="#5a8ad0"/><path d="M548,11 l3,-1 l3,1 l3,-1 l3,0" stroke="#c03030" fill="none"/><path d="M548,15 l3,-2 l3,1 l3,-2 l3,1" stroke="#20a020" fill="none"/><path d="M491,10 H497 L494,13 Z" fill="#000"/><path d="M529.5,10 H535.5 L532.5,13 Z" fill="#000"/><path d="M568.5,10 H574.5 L571.5,13 Z" fill="#000"/><path d="M874,10 H880 L877,13 Z" fill="#000"/><path d="M598,4 L598,16 L601,13 L603.5,18.5 L605.5,17.5 L603,12 L607,12 Z" fill="#333"/><g fill="#444"><rect x="623" y="11" width="6" height="1"/><rect x="632" y="11" width="6" height="1"/><rect x="630" y="4" width="1" height="6"/><rect x="630" y="13" width="1" height="6"/></g><rect x="664" y="5" width="1" height="13" fill="#444"/><rect x="687" y="11" width="12" height="1" fill="#444"/><line x1="715" y1="18" x2="727" y2="5.5" stroke="#444" stroke-width="1"/><g stroke="#555" stroke-width="1.1" fill="none"><path d="M741,12.5 L753,3.5 M742,17 L755.5,8.5 M744,6.5 L744.5,16 M748,4.5 L748.5,14 M752,3 L752.5,11.5 M741.5,12.8 L743.5,11.5 M745,15 L747,13.6"/></g><text x="751.5" y="19.8" font-family="Liberation Sans, sans-serif" font-size="7.5" font-weight="bold" fill="#444">E</text><g fill="#555"><rect x="770" y="4" width="1" height="1"/><rect x="772" y="4" width="1" height="1"/><rect x="774" y="4" width="1" height="1"/><rect x="776" y="4" width="1" height="1"/><rect x="778" y="4" width="1" height="1"/><rect x="780" y="4" width="1" height="1"/><rect x="782" y="4" width="1" height="1"/><rect x="770" y="7" width="1" height="1"/><rect x="772" y="7" width="1" height="1"/><rect x="774" y="7" width="1" height="1"/><rect x="776" y="7" width="1" height="1"/><rect x="778" y="7" width="1" height="1"/><rect x="780" y="7" width="1" height="1"/><rect x="782" y="7" width="1" height="1"/><rect x="770" y="11" width="1" height="1"/><rect x="772" y="11" width="1" height="1"/><rect x="774" y="11" width="1" height="1"/><rect x="776" y="11" width="1" height="1"/><rect x="778" y="11" width="1" height="1"/><rect x="780" y="11" width="1" height="1"/><rect x="782" y="11" width="1" height="1"/><rect x="770" y="15" width="1" height="1"/><rect x="772" y="15" width="1" height="1"/><rect x="774" y="15" width="1" height="1"/><rect x="776" y="15" width="1" height="1"/><rect x="778" y="15" width="1" height="1"/></g><text x="779.5" y="19.8" font-family="Liberation Sans, sans-serif" font-size="7.5" font-weight="bold" fill="#444">F</text><text x="800.3" y="15.5" font-family="Liberation Sans, sans-serif" font-size="11.5" font-weight="bold" fill="#5a5a5a">A</text><g fill="#555"><rect x="827" y="5" width="1" height="1"/><rect x="827" y="17" width="1" height="1"/><rect x="829" y="5" width="1" height="1"/><rect x="829" y="17" width="1" height="1"/><rect x="831" y="5" width="1" height="1"/><rect x="831" y="17" width="1" height="1"/><rect x="833" y="5" width="1" height="1"/><rect x="833" y="17" width="1" height="1"/><rect x="835" y="5" width="1" height="1"/><rect x="835" y="17" width="1" height="1"/><rect x="837" y="5" width="1" height="1"/><rect x="837" y="17" width="1" height="1"/><rect x="839" y="5" width="1" height="1"/><rect x="839" y="17" width="1" height="1"/><rect x="827" y="5" width="1" height="1"/><rect x="839" y="5" width="1" height="1"/><rect x="827" y="7" width="1" height="1"/><rect x="839" y="7" width="1" height="1"/><rect x="827" y="9" width="1" height="1"/><rect x="839" y="9" width="1" height="1"/><rect x="827" y="11" width="1" height="1"/><rect x="839" y="11" width="1" height="1"/><rect x="827" y="13" width="1" height="1"/><rect x="839" y="13" width="1" height="1"/><rect x="827" y="15" width="1" height="1"/><rect x="839" y="15" width="1" height="1"/><rect x="827" y="17" width="1" height="1"/><rect x="839" y="17" width="1" height="1"/></g><rect x="826" y="4" width="2" height="1" fill="#333"/><text x="829.3" y="15.5" font-family="Liberation Sans, sans-serif" font-size="11" font-weight="bold" fill="#555">T</text><path d="M855,8 L858,5 L861,8 L858,11 Z" fill="#333"/><path d="M861,15 L864,12 L867,15 L864,18 Z" fill="#333"/><path d="M856,11 L858.5,14 L863,9" fill="none" stroke="#333" stroke-width="1.2"/><circle cx="1618" cy="8.5" r="3.5" fill="none" stroke="#2a5ed0" stroke-width="1.4"/><line x1="1615.5" y1="11" x2="1610.5" y2="16" stroke="#2a5ed0" stroke-width="2"/><ellipse cx="1651" cy="8.5" rx="5.5" ry="4.5" fill="#f4f4f8" stroke="#999" stroke-width="0.9"/><ellipse cx="1641.5" cy="12.5" rx="5" ry="3.8" fill="#f4f4f8" stroke="#999" stroke-width="0.9"/><path d="M1639,15.5 l-0.5,2.5 l2.5,-2" fill="#f4f4f8" stroke="#999" stroke-width="0.8"/></svg>
<svg width="220" height="112" viewBox="0 0 220 112" style="position:absolute;left:0;top:0"><defs><linearGradient id="btn" x1="0" y1="0" x2="0" y2="1"><stop offset="0" stop-color="#f65a5a"/><stop offset="1" stop-color="#df3535"/></linearGradient><linearGradient id="pbox" x1="0" y1="0" x2="0" y2="1"><stop offset="0" stop-color="#e03434"/><stop offset="1" stop-color="#b00505"/></linearGradient><linearGradient id="gbtn" x1="0" y1="0" x2="0" y2="1"><stop offset="0" stop-color="#f2f2f2"/><stop offset="0.45" stop-color="#e6e6e6"/><stop offset="0.5" stop-color="#d6d6d6"/><stop offset="1" stop-color="#cfcfcf"/></linearGradient></defs><rect x="0" y="47" width="218" height="24" fill="#fff"/><rect x="0" y="71" width="108" height="40" fill="url(#pbox)"/><rect x="0" y="71" width="108" height="1" fill="#b00000"/><rect x="107" y="71" width="1" height="40" fill="#b00000"/><rect x="110" y="71" width="108" height="40" fill="url(#pbox)"/><rect x="110" y="71" width="108" height="1" fill="#b00000"/><rect x="217" y="71" width="1" height="40" fill="#b00000"/><rect x="0" y="47" width="51" height="25" fill="url(#btn)"/><rect x="0" y="47" width="51" height="1" fill="#a80000"/><rect x="50" y="47" width="1" height="25" fill="#b00000"/><rect x="166" y="47" width="52" height="25" fill="url(#btn)"/><rect x="166" y="47" width="52" height="1" fill="#a80000"/><rect x="166" y="47" width="1" height="25" fill="#b00000"/><rect x="217" y="47" width="1" height="25" fill="#b00000"/><rect x="3" y="70" width="44" height="1" fill="#8a0000"/><rect x="3" y="71" width="44" height="1" fill="#f07070"/><rect x="170" y="70" width="44" height="1" fill="#8a0000"/><rect x="170" y="71" width="44" height="1" fill="#f07070"/><rect x="53.5" y="47.5" width="110" height="21" fill="#fff" stroke="#a7aab2"/><rect x="55" y="49" width="19" height="18" fill="url(#gbtn)"/><rect x="74" y="48" width="1" height="20" fill="#a7aab2"/><rect x="143" y="49" width="19" height="18" fill="url(#gbtn)"/><rect x="142" y="48" width="1" height="20" fill="#a7aab2"/><path d="M61,56.5 H66.5 L63.75,59.5 Z" fill="#4a5ac8"/><path d="M149.5,59.5 H155 L152.25,56.5 Z" fill="#4a5ac8"/><text text-anchor="end" x="138.5" y="61.8" font-family="'Liberation Sans', 'DejaVu Sans', Arial, sans-serif" font-size="12" fill="#000" font-weight="normal">1.00</text><text textLength="25.5" lengthAdjust="spacingAndGlyphs" x="11" y="63" font-family="'Liberation Sans', 'DejaVu Sans', Arial, sans-serif" font-size="12.5" fill="#fff" font-weight="normal">SELL</text><text textLength="23.5" lengthAdjust="spacingAndGlyphs" x="179.5" y="63" font-family="'Liberation Sans', 'DejaVu Sans', Arial, sans-serif" font-size="12.5" fill="#fff" font-weight="normal">BUY</text><text x="21.3" y="101.6" font-family="'Liberation Sans', 'DejaVu Sans', Arial, sans-serif" font-size="13.6" fill="#fff" font-weight="bold">141</text><text textLength="36" lengthAdjust="spacingAndGlyphs" x="46.5" y="102" font-family="'Liberation Sans', 'DejaVu Sans', Arial, sans-serif" font-size="34" fill="#fff" font-weight="normal">39</text><text x="85.6" y="85.8" font-family="'Liberation Sans', 'DejaVu Sans', Arial, sans-serif" font-size="11.5" fill="#fff" font-weight="bold">8</text><text x="131.3" y="101.6" font-family="'Liberation Sans', 'DejaVu Sans', Arial, sans-serif" font-size="13.6" fill="#fff" font-weight="bold">141</text><text x="155.5" y="102" font-family="'Liberation Sans', 'DejaVu Sans', Arial, sans-serif" font-size="34" fill="#fff" font-weight="normal">43</text><text x="197.4" y="85.8" font-family="'Liberation Sans', 'DejaVu Sans', Arial, sans-serif" font-size="11.5" fill="#fff" font-weight="bold">3</text></svg>
</body></html>
